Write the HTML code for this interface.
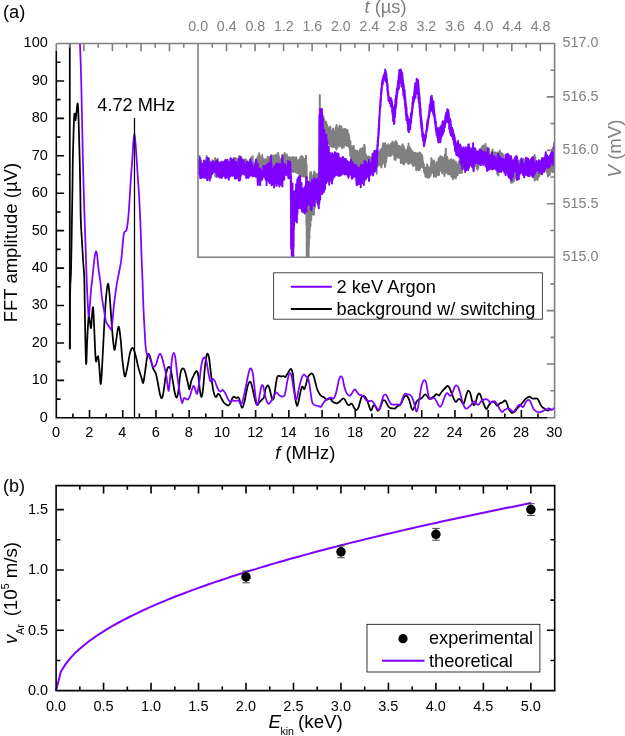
<!DOCTYPE html>
<html><head><meta charset="utf-8"><title>figure</title>
<style>
html,body{margin:0;padding:0;background:#fff;}
body{width:625px;height:736px;overflow:hidden;position:relative;}
svg text{font-family:"Liberation Sans",sans-serif;}
</style></head><body>
<svg width="625" height="736" viewBox="0 0 625 736" style="display:block;position:absolute;left:0;top:0;will-change:transform;opacity:0.999">
<rect width="625" height="736" fill="#fff"/>
<!--CURVES_A-->
<g clip-path="url(#clipA)" fill="none" stroke-linejoin="round" stroke-linecap="round" stroke-width="1.75">
<path d="M69.8,-50.0 L69.8,348.4" stroke="#000"/>
<path d="M69.8,348.4 C69.9,343.7 69.9,328.1 69.9,320.0 C69.9,311.9 69.9,305.8 70.0,300.0 C70.1,294.2 70.2,289.7 70.3,285.0 C70.5,280.3 70.8,278.3 71.0,272.0 C71.2,265.7 71.3,256.5 71.5,247.0 C71.7,237.5 71.8,225.3 72.0,215.0 C72.2,204.7 72.3,194.2 72.5,185.0 C72.6,175.8 72.7,168.3 72.8,160.0 C73.0,151.7 73.3,142.5 73.5,135.0 C73.7,127.5 74.0,118.2 74.3,115.0 C74.5,111.8 74.8,114.7 75.0,115.5 C75.2,116.3 75.3,120.6 75.6,120.0 C75.8,119.4 76.2,114.7 76.5,112.0 C76.8,109.3 77.4,102.3 77.7,103.6 C78.0,104.9 78.3,110.6 78.6,120.0 C78.9,129.4 79.4,148.3 79.7,160.0 C80.0,171.7 80.1,179.9 80.3,190.0 C80.5,200.1 80.5,211.7 80.8,220.4 C81.1,229.1 81.6,235.1 82.0,242.0 C82.4,248.9 82.8,256.0 83.2,262.0 C83.6,268.0 84.0,268.3 84.3,278.0 C84.6,287.7 84.7,305.7 85.0,320.0 C85.3,334.3 85.7,360.4 86.1,363.7 C86.5,367.0 86.8,347.8 87.2,340.0 C87.6,332.2 88.2,320.0 88.6,316.8 C89.0,313.6 89.4,319.1 89.8,321.0 C90.2,322.9 90.6,328.8 91.0,328.0 C91.4,327.2 91.7,319.4 92.0,316.0 C92.3,312.6 92.7,305.4 93.1,307.7 C93.5,310.0 93.9,321.4 94.3,330.0 C94.7,338.6 95.2,354.9 95.7,359.6 C96.2,364.4 96.6,359.0 97.0,358.5 C97.4,358.0 97.8,355.0 98.2,356.6 C98.6,358.2 99.0,363.4 99.4,368.0 C99.8,372.6 100.3,384.5 100.8,384.0 C101.3,383.5 101.7,374.0 102.2,365.0 C102.7,356.0 103.4,341.2 104.0,330.0 C104.6,318.8 105.3,305.7 106.0,298.0 C106.7,290.3 107.3,284.5 107.9,283.8 C108.5,283.1 108.9,288.0 109.5,294.0 C110.1,300.0 110.8,312.0 111.4,320.0 C112.0,328.0 112.7,337.0 113.2,342.0 C113.8,347.0 114.2,350.5 114.7,349.8 C115.2,349.1 115.9,341.9 116.5,338.0 C117.1,334.1 117.9,326.9 118.5,326.6 C119.1,326.3 119.6,330.4 120.3,336.0 C121.0,341.6 121.7,353.3 122.4,360.0 C123.2,366.7 124.0,375.0 124.8,376.3 C125.6,377.6 126.3,371.9 127.2,368.0 C128.1,364.1 129.1,356.4 130.0,353.0 C130.9,349.6 131.9,347.5 132.8,347.8 C133.7,348.1 134.6,351.6 135.5,355.0 C136.4,358.4 137.5,364.2 138.5,368.0 C139.5,371.8 140.8,375.5 141.6,378.0 C142.4,380.5 142.6,383.9 143.2,382.8 C143.8,381.7 144.4,376.0 145.1,371.6 C145.8,367.2 146.6,359.3 147.2,356.4 C147.8,353.5 148.3,353.7 148.8,354.0 C149.3,354.3 149.7,355.7 150.4,358.0 C151.1,360.3 151.9,364.9 152.8,367.6 C153.7,370.3 155.1,370.9 156.0,374.0 C156.9,377.1 157.7,382.4 158.4,386.0 C159.1,389.6 159.7,393.6 160.3,395.6 C160.9,397.6 161.3,398.8 161.9,398.0 C162.5,397.2 163.1,394.4 163.7,390.8 C164.3,387.2 165.0,380.1 165.6,376.4 C166.2,372.7 166.9,369.9 167.5,368.4 C168.1,366.8 168.7,366.8 169.3,367.1 C169.9,367.4 170.3,367.6 170.9,370.0 C171.5,372.4 172.1,377.3 172.8,381.2 C173.5,385.1 174.2,390.5 174.9,393.2 C175.6,395.9 176.2,397.9 176.8,397.5 C177.4,397.1 177.9,394.3 178.4,390.8 C178.9,387.3 179.5,379.9 180.0,376.4 C180.5,372.9 180.8,371.3 181.3,370.0 C181.8,368.7 182.3,368.3 182.9,368.4 C183.5,368.5 184.2,369.2 184.8,370.8 C185.4,372.4 186.1,375.5 186.7,378.0 C187.3,380.5 188.0,384.1 188.5,386.0 C189.0,387.9 189.2,390.0 189.6,389.2 C190.0,388.4 190.5,383.5 191.2,381.2 C191.9,378.9 192.8,377.2 193.6,375.6 C194.3,374.1 195.1,372.6 195.7,371.9 C196.3,371.2 196.6,370.6 197.1,371.3 C197.6,372.1 197.9,373.1 198.4,376.4 C198.9,379.6 199.5,387.4 200.0,390.8 C200.5,394.2 201.1,397.4 201.6,396.9 C202.1,396.4 202.7,392.4 203.2,387.6 C203.7,382.9 204.3,373.6 204.8,368.4 C205.3,363.2 205.9,358.8 206.4,356.4 C206.9,353.9 207.2,353.4 207.7,353.7 C208.1,354.0 208.6,355.0 209.1,358.0 C209.6,361.0 210.1,366.7 210.7,371.6 C211.3,376.5 212.2,383.7 212.8,387.6 C213.4,391.5 213.9,393.2 214.4,394.8 C214.9,396.4 215.4,397.3 216.0,397.2 C216.6,397.1 217.3,394.4 217.9,394.0 C218.5,393.6 218.9,394.0 219.5,394.8 C220.1,395.6 220.8,397.5 221.6,398.8 C222.3,400.1 223.2,401.8 224.0,402.8 C224.8,403.8 225.7,404.2 226.4,404.7 C227.2,405.1 227.8,405.8 228.5,405.5 C229.2,405.2 229.8,404.1 230.4,402.8 C231.1,401.6 231.8,399.0 232.4,398.0 C233.0,397.0 233.4,396.7 234.0,396.7 C234.6,396.7 235.4,397.9 236.1,398.0 C236.8,398.1 237.5,397.1 238.0,397.2 C238.5,397.3 238.8,397.5 239.3,398.8 C239.8,400.1 240.4,403.7 240.9,405.2 C241.4,406.7 241.9,408.1 242.5,407.6 C243.1,407.1 243.8,404.3 244.4,402.0 C245.0,399.7 245.4,396.8 246.0,394.0 C246.6,391.2 247.2,387.2 247.9,385.2 C248.6,383.1 249.4,381.8 250.0,381.7 C250.6,381.6 251.0,382.3 251.6,384.4 C252.2,386.4 253.0,391.1 253.7,394.0 C254.4,396.9 255.0,400.1 255.6,402.0 C256.2,403.9 256.5,405.2 257.2,405.2 C257.9,405.2 258.8,402.9 259.6,402.0 C260.4,401.1 261.3,400.4 262.0,399.6 C262.7,398.8 263.3,398.9 263.9,397.2 C264.5,395.5 264.9,391.1 265.5,389.2 C266.1,387.2 267.0,385.8 267.6,385.5 C268.2,385.2 268.7,386.2 269.2,387.6 C269.7,389.0 270.3,392.0 270.8,394.0 C271.3,396.0 271.9,399.1 272.4,399.6 C272.9,400.1 273.5,399.5 274.0,397.2 C274.5,394.9 275.1,389.3 275.6,386.0 C276.1,382.7 276.7,378.9 277.2,377.2 C277.7,375.5 278.1,376.0 278.8,375.9 C279.5,375.8 280.4,376.4 281.2,376.4 C282.0,376.4 282.9,376.0 283.6,376.1 C284.3,376.2 284.7,377.4 285.2,377.2 C285.7,377.0 286.1,375.9 286.8,374.8 C287.5,373.7 288.5,371.8 289.2,370.8 C289.9,369.8 290.5,368.5 291.1,368.9 C291.7,369.3 292.2,370.3 292.7,373.2 C293.2,376.1 293.5,381.5 294.0,386.0 C294.5,390.5 295.1,397.1 295.6,400.4 C296.1,403.7 296.7,406.0 297.2,406.0 C297.7,406.0 298.3,402.7 298.8,400.4 C299.3,398.1 299.9,394.7 300.4,392.4 C300.9,390.1 301.5,387.6 302.0,386.8 C302.5,386.0 302.9,387.2 303.3,387.6 C303.7,388.0 303.9,389.7 304.4,389.2 C304.8,388.7 305.4,386.4 306.0,384.4 C306.6,382.4 307.2,378.8 307.9,377.2 C308.6,375.6 309.3,375.1 310.0,374.5 C310.7,373.9 311.3,373.3 311.9,373.5 C312.5,373.7 313.0,374.3 313.5,375.6 C314.0,376.9 314.5,378.9 315.1,381.2 C315.7,383.5 316.4,387.1 317.2,389.2 C317.9,391.3 318.8,392.8 319.6,394.0 C320.4,395.2 321.2,395.9 321.9,396.4 C322.6,396.9 323.2,396.7 324.0,397.2 C324.8,397.7 325.6,399.3 326.4,399.6 C327.2,399.9 328.1,399.1 328.8,398.8 C329.5,398.5 329.9,397.6 330.4,398.0 C330.9,398.4 331.3,400.4 332.0,401.2 C332.7,402.0 333.6,402.4 334.4,402.8 C335.2,403.2 336.0,403.4 336.8,403.3 C337.6,403.2 338.4,402.6 339.2,402.0 C340.0,401.4 340.9,400.2 341.6,399.6 C342.4,399.0 343.1,398.4 343.7,398.5 C344.3,398.6 344.7,399.5 345.3,400.4 C345.9,401.3 346.6,403.1 347.2,403.9 C347.8,404.7 348.4,405.2 349.1,405.2 C349.8,405.1 350.6,403.7 351.2,403.6 C351.8,403.5 352.0,403.6 352.5,404.4 C353.0,405.2 353.7,407.5 354.4,408.4 C355.1,409.3 355.8,410.1 356.5,410.0 C357.2,409.9 357.8,408.9 358.4,407.6 C359.0,406.3 359.5,403.7 360.0,402.0 C360.5,400.3 361.1,398.3 361.6,397.2 C362.1,396.1 362.6,395.7 363.2,395.6 C363.8,395.6 364.4,396.1 365.1,396.9 C365.8,397.7 366.6,399.0 367.2,400.4 C367.8,401.8 368.3,403.6 368.8,405.2 C369.3,406.8 369.9,408.9 370.4,409.7 C370.8,410.5 371.1,410.6 371.5,410.0 C371.9,409.4 372.6,406.8 373.1,406.0 C373.6,405.2 373.9,404.9 374.4,405.2 C374.9,405.5 375.4,406.7 376.0,407.6 C376.6,408.5 377.2,410.7 377.9,410.8 C378.6,410.9 379.4,409.6 380.0,408.4 C380.6,407.2 381.1,404.9 381.6,403.6 C382.1,402.3 382.7,400.9 383.2,400.4 C383.7,399.9 384.3,400.0 384.8,400.4 C385.3,400.8 385.8,401.7 386.4,402.8 C387.0,403.9 387.8,405.9 388.5,406.8 C389.2,407.7 389.7,407.8 390.4,408.1 C391.1,408.4 392.0,408.3 392.8,408.4 C393.6,408.4 394.4,408.8 395.2,408.4 C396.0,408.0 396.8,406.5 397.6,406.0 C398.4,405.5 399.3,405.9 400.0,405.2 C400.7,404.5 401.2,403.3 401.9,402.0 C402.6,400.7 403.3,398.3 404.0,397.2 C404.7,396.1 405.4,395.6 406.1,395.6 C406.8,395.6 407.4,396.3 408.0,397.2 C408.6,398.1 409.1,399.5 409.6,401.2 C410.2,402.9 410.8,406.1 411.3,407.6 C411.9,409.1 412.4,410.1 412.9,410.0 C413.4,409.9 413.9,408.1 414.5,406.8 C415.1,405.5 415.8,403.2 416.4,402.0 C417.0,400.8 417.6,400.1 418.3,399.6 C419.0,399.1 419.7,399.5 420.4,399.1 C421.1,398.7 421.8,397.9 422.5,397.2 C423.2,396.5 423.9,395.2 424.4,394.8 C424.9,394.4 425.2,394.2 425.7,394.5 C426.2,394.8 426.7,395.7 427.3,396.4 C427.9,397.1 428.5,398.5 429.2,398.8 C429.9,399.1 430.8,398.4 431.6,398.0 C432.4,397.6 433.3,397.0 434.0,396.4 C434.7,395.8 435.3,394.6 435.9,394.3 C436.5,394.0 437.0,394.6 437.5,394.8 C438.0,395.0 438.6,395.9 439.1,395.6 C439.6,395.3 440.1,394.1 440.7,393.2 C441.3,392.3 442.1,391.3 442.8,390.5 C443.5,389.7 444.2,389.1 444.9,388.4 C445.6,387.7 446.3,386.7 446.8,386.3 C447.3,385.9 447.6,385.6 448.1,386.0 C448.6,386.4 449.2,387.3 449.7,388.4 C450.2,389.5 450.7,390.9 451.3,392.4 C451.9,393.9 452.6,395.7 453.2,397.2 C453.8,398.7 454.6,400.4 455.1,401.2 C455.6,401.9 455.9,402.0 456.4,401.7 C456.9,401.4 457.5,400.1 458.0,399.6 C458.5,399.1 458.8,398.7 459.3,398.8 C459.8,398.9 460.3,399.6 460.9,400.4 C461.5,401.2 462.3,403.2 462.8,403.6 C463.3,404.0 463.6,403.9 464.1,402.8 C464.6,401.7 465.2,399.0 465.7,397.2 C466.2,395.4 466.8,393.2 467.3,392.1 C467.8,391.0 468.2,390.6 468.7,390.8 C469.2,391.0 469.8,391.9 470.3,393.2 C470.8,394.5 471.2,397.1 471.6,398.8 C472.0,400.5 472.5,402.5 472.9,403.6 C473.3,404.7 473.6,405.3 474.0,405.2 C474.4,405.1 475.1,404.3 475.6,402.8 C476.1,401.3 476.7,397.9 477.2,396.4 C477.7,394.8 478.3,393.8 478.8,393.5 C479.3,393.2 479.9,393.8 480.4,394.8 C480.9,395.8 481.4,398.0 482.0,399.6 C482.6,401.2 483.3,403.0 483.9,404.4 C484.5,405.8 485.0,407.4 485.5,408.1 C486.0,408.9 486.3,409.2 486.8,408.9 C487.3,408.5 487.9,406.9 488.4,406.0 C488.9,405.1 489.4,404.3 490.0,403.6 C490.6,402.9 491.4,401.9 492.2,401.7 C492.9,401.5 493.8,401.8 494.5,402.3 C495.2,402.8 495.7,404.2 496.2,404.8 C496.7,405.4 497.1,406.0 497.6,405.9 C498.1,405.8 498.6,404.7 499.0,404.2 C499.4,403.7 499.8,403.4 500.3,403.1 C500.8,402.8 501.5,402.9 502.1,402.6 C502.7,402.3 503.2,401.6 503.7,401.2 C504.2,400.8 504.7,400.4 505.1,400.5 C505.5,400.6 505.8,401.0 506.2,401.7 C506.6,402.4 507.0,403.7 507.4,404.8 C507.8,405.9 508.1,407.2 508.5,408.2 C508.9,409.2 509.4,410.3 509.9,411.0 C510.4,411.7 510.9,412.1 511.3,412.4 C511.7,412.7 511.9,412.9 512.4,412.9 C512.9,412.8 513.5,412.6 514.1,412.1 C514.8,411.6 515.5,410.7 516.3,409.8 C517.0,408.9 517.9,407.8 518.6,407.0 C519.4,406.2 520.1,405.6 520.8,404.8 C521.5,404.0 522.2,402.9 523.0,402.0 C523.8,401.1 524.5,399.9 525.3,399.2 C526.0,398.4 526.8,397.9 527.5,397.5 C528.2,397.1 528.8,396.6 529.4,396.7 C530.0,396.8 530.6,397.5 531.2,397.8 C531.8,398.1 532.5,398.5 533.1,398.6 C533.7,398.7 534.2,398.7 534.8,398.6 C535.4,398.6 536.0,398.2 536.5,398.3 C537.0,398.4 537.4,398.6 537.9,399.2 C538.4,399.8 538.8,401.0 539.3,402.0 C539.8,403.0 540.5,404.5 541.0,405.4 C541.5,406.3 542.1,406.8 542.6,407.3 C543.1,407.8 543.7,408.0 544.3,408.4 C544.9,408.8 545.4,409.4 546.0,409.8 C546.6,410.2 547.1,410.6 547.7,410.6 C548.3,410.6 548.9,410.0 549.4,409.8 C549.9,409.6 550.7,409.4 551.0,409.3" stroke="#000"/>
<path d="M80.0,30.0 C80.0,32.2 79.8,35.2 80.0,43.5 C80.2,51.8 80.7,60.6 81.2,80.0 C81.7,99.4 82.4,140.0 82.9,160.0 C83.4,180.0 83.6,186.4 84.0,200.0 C84.4,213.6 85.0,230.3 85.4,241.6 C85.8,252.9 86.0,259.6 86.3,268.0 C86.6,276.4 86.8,284.0 87.2,292.0 C87.6,300.0 88.2,313.5 88.6,315.8 C89.0,318.1 89.4,310.3 89.8,306.0 C90.2,301.7 90.6,294.3 91.0,290.0 C91.4,285.7 91.8,283.7 92.2,280.0 C92.6,276.3 93.0,271.8 93.4,268.0 C93.8,264.2 94.3,259.8 94.7,257.0 C95.1,254.2 95.6,251.6 96.0,251.4 C96.4,251.2 96.8,253.2 97.2,256.0 C97.6,258.8 97.9,263.7 98.4,268.0 C98.9,272.3 99.8,277.2 100.4,282.0 C101.0,286.8 101.2,292.0 101.8,296.5 C102.4,301.0 103.1,304.9 103.8,309.0 C104.5,313.1 105.2,318.2 105.9,320.9 C106.6,323.6 107.2,323.9 107.9,325.0 C108.6,326.1 109.2,326.8 109.8,327.5 C110.4,328.2 110.9,330.8 111.4,329.5 C111.9,328.2 112.2,324.1 112.6,320.0 C113.0,315.9 113.5,309.1 114.0,304.6 C114.5,300.1 115.0,296.7 115.5,293.0 C116.0,289.3 116.4,286.0 117.1,282.2 C117.8,278.4 118.8,273.8 119.5,270.0 C120.2,266.2 120.6,265.3 121.3,259.5 C122.0,253.7 123.0,239.7 123.7,235.0 C124.4,230.3 124.7,232.3 125.2,231.5 C125.7,230.7 126.1,231.3 126.5,230.1 C126.9,228.8 127.2,226.7 127.6,224.0 C127.9,221.3 128.2,218.5 128.6,213.8 C129.0,209.1 129.4,202.2 129.8,196.0 C130.2,189.8 130.6,182.3 131.0,176.3 C131.4,170.3 131.9,165.6 132.3,160.0 C132.7,154.4 133.0,147.4 133.3,143.0 C133.7,138.6 134.0,133.8 134.4,133.8 C134.8,133.8 135.1,138.6 135.5,143.0 C135.9,147.4 136.3,153.8 136.7,160.0 C137.1,166.2 137.6,173.8 138.0,180.0 C138.4,186.2 138.7,188.6 139.2,197.5 C139.7,206.4 140.4,223.3 140.8,233.4 C141.2,243.5 141.3,250.2 141.6,258.0 C141.9,265.8 142.2,271.2 142.5,280.0 C142.8,288.8 143.2,302.4 143.6,310.7 C143.9,319.0 144.3,324.1 144.6,330.0 C144.9,335.9 145.2,342.1 145.6,346.0 C145.9,349.9 146.3,352.1 146.7,353.6 C147.1,355.1 147.7,354.7 148.0,355.0 C148.3,355.3 148.3,354.4 148.8,355.6 C149.3,356.8 150.4,360.1 151.2,362.0 C151.9,363.9 152.5,366.4 153.3,366.8 C154.1,367.2 155.2,366.1 156.0,364.4 C156.8,362.7 157.7,358.2 158.4,356.4 C159.1,354.6 159.5,353.5 160.0,353.5 C160.5,353.5 160.9,354.4 161.6,356.4 C162.3,358.3 163.2,361.9 164.0,365.2 C164.8,368.5 165.7,372.1 166.4,376.4 C167.2,380.7 167.9,390.5 168.5,390.8 C169.1,391.1 169.5,383.3 170.1,378.0 C170.7,372.7 171.4,363.0 172.0,358.8 C172.6,354.6 173.3,352.9 173.9,352.9 C174.5,352.9 174.9,354.6 175.5,358.8 C176.1,363.0 176.8,372.1 177.6,378.0 C178.3,383.9 179.2,389.9 180.0,394.0 C180.8,398.1 181.4,402.1 182.1,402.8 C182.8,403.5 183.2,398.5 184.0,398.0 C184.8,397.5 186.3,399.7 187.2,399.6 C188.1,399.5 188.8,398.9 189.6,397.2 C190.4,395.5 191.3,391.1 192.0,389.2 C192.7,387.3 193.1,385.7 193.6,385.7 C194.1,385.7 194.6,387.9 195.2,389.2 C195.8,390.5 196.4,394.8 197.1,393.7 C197.8,392.6 198.5,387.3 199.2,382.8 C199.9,378.3 200.5,370.7 201.1,366.8 C201.7,362.9 202.1,361.2 202.7,359.6 C203.3,358.1 203.9,357.2 204.5,357.5 C205.1,357.8 205.7,358.6 206.4,361.2 C207.1,363.8 207.8,369.9 208.5,373.2 C209.2,376.5 209.7,380.3 210.4,381.2 C211.1,382.1 212.1,378.8 212.8,378.8 C213.6,378.8 214.1,379.6 214.9,381.2 C215.7,382.8 216.8,386.7 217.6,388.4 C218.4,390.1 219.1,391.3 220.0,391.6 C220.9,391.9 222.0,389.6 222.9,390.0 C223.8,390.4 224.6,392.3 225.6,394.0 C226.6,395.7 227.9,399.1 228.8,400.4 C229.7,401.7 230.6,402.1 231.2,402.0 C231.8,401.9 231.8,400.2 232.4,400.1 C233.0,400.0 233.9,401.1 234.8,401.2 C235.7,401.2 237.1,400.0 238.0,400.4 C238.9,400.8 239.8,402.9 240.4,403.6 C241.0,404.3 241.0,405.5 241.5,404.4 C242.0,403.3 242.8,400.3 243.6,397.2 C244.3,394.1 245.3,389.5 246.0,386.0 C246.7,382.5 247.3,379.1 247.9,376.4 C248.5,373.7 249.0,371.3 249.5,370.0 C250.0,368.7 250.3,368.2 250.8,368.4 C251.3,368.6 251.9,368.9 252.4,371.3 C252.9,373.7 253.5,378.5 254.0,382.8 C254.5,387.1 255.1,393.5 255.6,397.2 C256.1,400.9 256.7,404.4 257.2,404.9 C257.7,405.4 258.3,402.8 258.8,400.4 C259.3,398.0 259.9,393.3 260.4,390.8 C260.9,388.3 261.5,385.7 262.0,385.2 C262.5,384.7 263.0,385.6 263.6,387.6 C264.2,389.6 264.8,394.7 265.5,397.2 C266.2,399.7 267.0,401.7 267.6,402.8 C268.2,403.9 268.5,404.0 269.2,403.6 C269.9,403.2 270.8,401.7 271.6,400.4 C272.4,399.1 273.2,396.9 274.0,395.6 C274.8,394.3 275.6,392.5 276.4,392.4 C277.2,392.3 278.0,394.1 278.8,394.8 C279.6,395.5 280.4,396.1 281.2,396.4 C282.0,396.7 282.9,396.9 283.6,396.4 C284.3,395.9 284.7,395.2 285.2,393.2 C285.7,391.2 286.3,387.2 286.8,384.4 C287.3,381.6 287.9,378.3 288.4,376.4 C288.9,374.5 289.5,373.2 290.0,373.2 C290.5,373.2 291.1,374.3 291.6,376.4 C292.1,378.5 292.7,382.8 293.2,386.0 C293.7,389.2 294.4,393.3 294.8,395.6 C295.2,397.9 295.5,399.3 295.9,399.6 C296.3,399.9 296.7,399.2 297.2,397.2 C297.7,395.2 298.4,390.5 299.1,387.6 C299.8,384.7 300.6,381.6 301.2,379.6 C301.8,377.6 302.3,376.5 302.8,375.6 C303.3,374.8 303.6,374.4 304.1,374.5 C304.6,374.6 305.4,375.8 306.0,376.4 C306.6,377.0 307.4,376.9 307.9,378.0 C308.4,379.1 308.7,380.1 309.2,382.8 C309.7,385.5 310.3,390.7 310.8,394.0 C311.3,397.3 311.7,400.9 312.4,402.8 C313.1,404.7 313.9,404.7 314.8,405.2 C315.7,405.7 316.9,405.7 318.0,406.0 C319.1,406.3 320.5,407.1 321.2,406.8 C321.9,406.5 321.8,405.3 322.4,404.4 C323.0,403.5 324.0,402.1 324.8,401.2 C325.6,400.3 326.4,399.6 327.2,399.1 C327.9,398.6 328.6,398.2 329.3,398.0 C330.0,397.8 330.6,397.6 331.2,397.7 C331.8,397.8 332.2,398.9 332.8,398.8 C333.4,398.7 334.0,398.4 334.7,396.9 C335.4,395.4 336.2,392.5 336.8,390.0 C337.4,387.5 337.9,384.1 338.4,382.0 C338.9,379.9 339.5,378.1 340.0,377.2 C340.5,376.3 340.9,376.1 341.3,376.4 C341.8,376.7 342.2,377.3 342.7,378.8 C343.1,380.3 343.5,383.1 344.0,385.2 C344.5,387.3 345.2,390.0 345.9,391.6 C346.6,393.2 347.3,394.1 348.0,394.8 C348.7,395.5 349.4,395.9 350.1,395.6 C350.8,395.3 351.4,394.1 352.0,393.2 C352.6,392.3 353.1,391.1 353.6,390.5 C354.1,389.9 354.7,389.3 355.2,389.5 C355.7,389.7 356.1,390.7 356.8,391.6 C357.5,392.5 358.4,394.2 359.2,394.8 C360.0,395.4 361.1,394.9 361.9,395.3 C362.7,395.7 363.2,396.4 364.0,397.2 C364.8,398.0 365.6,399.7 366.4,400.4 C367.2,401.1 367.9,401.1 368.8,401.2 C369.7,401.2 370.7,400.4 371.5,400.7 C372.3,401.0 372.9,401.8 373.6,402.8 C374.4,403.8 375.2,405.7 376.0,406.8 C376.8,407.9 377.7,409.6 378.4,409.7 C379.1,409.8 379.5,408.9 380.0,407.6 C380.5,406.3 381.1,403.9 381.6,402.0 C382.1,400.1 382.7,397.6 383.2,396.4 C383.7,395.1 384.2,394.6 384.8,394.5 C385.4,394.4 386.2,394.9 386.9,395.9 C387.6,396.9 388.1,399.0 388.8,400.4 C389.5,401.8 390.4,403.4 391.2,404.1 C392.0,404.8 392.7,404.6 393.6,404.7 C394.5,404.8 395.9,404.4 396.8,404.4 C397.7,404.4 398.5,404.8 399.2,404.7 C399.9,404.6 400.3,404.6 400.8,403.6 C401.3,402.6 401.9,400.3 402.4,398.8 C402.9,397.3 403.5,395.7 404.0,394.8 C404.5,393.9 405.0,393.8 405.6,393.7 C406.2,393.6 407.0,394.1 407.7,394.3 C408.4,394.5 408.9,394.3 409.6,394.8 C410.3,395.3 411.2,395.9 411.9,397.2 C412.6,398.5 413.4,400.8 414.0,402.8 C414.6,404.8 415.2,407.7 415.6,409.2 C416.1,410.7 416.3,411.9 416.7,411.6 C417.1,411.3 417.5,410.0 418.0,407.6 C418.5,405.2 419.1,400.5 419.6,397.2 C420.1,393.9 420.7,390.1 421.2,387.6 C421.7,385.1 422.3,383.2 422.8,382.0 C423.3,380.8 423.9,380.1 424.4,380.1 C424.9,380.1 425.5,380.5 426.0,382.0 C426.5,383.5 426.8,386.7 427.3,389.2 C427.8,391.7 428.3,395.5 428.9,397.2 C429.5,398.9 430.1,399.0 430.8,399.1 C431.5,399.2 432.5,398.1 433.2,398.0 C433.9,397.9 434.3,398.0 434.8,398.5 C435.3,399.0 435.8,400.1 436.4,401.2 C437.0,402.3 437.9,404.3 438.5,405.2 C439.1,406.1 439.5,406.9 440.1,406.8 C440.7,406.7 441.4,405.7 442.0,404.4 C442.6,403.1 443.2,400.5 443.9,398.8 C444.6,397.1 445.4,394.9 446.0,394.0 C446.6,393.1 447.0,392.9 447.6,393.2 C448.2,393.5 449.1,395.2 449.7,395.6 C450.3,396.0 450.8,396.0 451.3,395.3 C451.8,394.6 452.3,393.0 452.9,391.6 C453.5,390.2 454.2,387.8 454.8,386.8 C455.4,385.8 456.1,385.4 456.7,385.5 C457.3,385.6 457.9,386.2 458.5,387.6 C459.1,389.0 459.7,391.6 460.4,394.0 C461.1,396.4 461.8,399.9 462.5,402.0 C463.2,404.1 463.8,405.7 464.4,406.8 C465.0,407.9 465.3,408.6 466.0,408.7 C466.7,408.8 467.6,408.2 468.4,407.6 C469.2,407.0 470.0,406.1 470.8,405.2 C471.6,404.3 472.5,402.6 473.2,402.0 C473.9,401.4 474.2,401.1 474.8,401.5 C475.4,401.9 476.2,403.9 476.9,404.4 C477.6,404.9 478.1,404.9 478.8,404.4 C479.5,403.9 480.4,402.0 481.2,401.2 C482.0,400.4 482.8,400.0 483.6,399.6 C484.4,399.2 485.2,399.0 486.0,399.1 C486.8,399.2 487.7,399.8 488.4,400.4 C489.1,401.0 489.4,402.5 490.0,402.8 C490.6,403.1 491.5,402.3 492.2,402.0 C492.9,401.7 493.6,401.0 494.3,401.2 C495.0,401.4 495.6,402.3 496.2,403.1 C496.8,403.9 497.5,404.8 498.1,405.9 C498.8,407.0 499.4,408.8 500.1,409.8 C500.8,410.8 501.5,412.0 502.1,412.1 C502.8,412.2 503.3,410.9 504.0,410.4 C504.7,409.9 505.4,409.3 506.2,409.0 C506.9,408.7 507.8,408.6 508.5,408.7 C509.2,408.8 509.6,408.9 510.2,409.3 C510.8,409.7 511.3,410.6 511.8,411.0 C512.3,411.4 512.7,411.9 513.3,411.7 C513.9,411.5 514.5,410.7 515.2,409.8 C515.9,408.9 516.7,407.3 517.4,406.5 C518.1,405.7 518.7,405.0 519.3,404.8 C519.9,404.6 520.2,405.0 520.8,405.4 C521.4,405.8 522.1,407.0 522.7,407.0 C523.3,407.0 523.7,406.2 524.2,405.4 C524.7,404.6 525.2,402.9 525.8,402.0 C526.3,401.1 527.0,400.6 527.5,400.3 C528.0,400.0 528.5,399.9 529.0,400.1 C529.5,400.3 529.8,400.6 530.3,401.4 C530.8,402.2 531.2,403.7 531.7,404.8 C532.2,405.9 532.6,407.3 533.1,408.2 C533.6,409.1 534.1,409.8 534.8,410.4 C535.4,411.0 536.2,411.4 537.0,411.7 C537.8,412.0 538.9,412.4 539.8,412.4 C540.6,412.4 541.4,411.9 542.1,411.5 C542.9,411.1 543.5,410.6 544.3,410.2 C545.0,409.8 546.0,409.6 546.6,409.3 C547.2,409.0 547.7,408.5 548.2,408.4 C548.8,408.3 549.3,408.5 549.9,408.7 C550.5,408.9 551.0,409.8 551.6,409.8 C552.2,409.9 552.8,409.4 553.3,409.0 C553.8,408.6 554.2,407.8 554.4,407.6" stroke="#7f00ff"/>
</g>
<defs><clipPath id="clipA"><rect x="56.3" y="43.5" width="498.3" height="374.3"/></clipPath><clipPath id="clipI"><rect x="198.0" y="43.5" width="356.6" height="213.7"/></clipPath></defs>
<line x1="134.5" y1="118" x2="134.5" y2="417.8" stroke="#000" stroke-width="1.25"/>
<text x="136.2" y="111.3" font-size="18.2" text-anchor="middle" fill="#000" >4.72 MHz</text>
<rect x="198.0" y="43.5" width="356.6" height="213.7" fill="#fff"/>
<!--CURVES_I-->
<g clip-path="url(#clipI)" fill="none" stroke-linejoin="round" stroke-width="2.0">
<path d="M198.0,157.1 L198.2,169.9 L198.3,161.8 L198.4,173.3 L198.6,161.1 L198.8,170.5 L198.9,157.6 L199.1,170.6 L199.2,160.2 L199.3,172.1 L199.5,155.9 L199.7,173.7 L199.8,157.3 L199.9,170.7 L200.1,162.7 L200.2,168.4 L200.4,163.7 L200.6,171.2 L200.7,160.3 L200.8,169.7 L201.0,161.6 L201.2,170.1 L201.3,164.8 L201.4,168.1 L201.6,163.8 L201.8,167.1 L201.9,164.0 L202.1,172.0 L202.2,164.1 L202.3,169.2 L202.5,163.8 L202.7,168.7 L202.8,164.4 L202.9,170.2 L203.1,163.5 L203.2,171.8 L203.4,163.6 L203.6,169.5 L203.7,164.1 L203.8,171.2 L204.0,165.7 L204.2,171.8 L204.3,162.6 L204.4,171.2 L204.6,163.7 L204.8,172.1 L204.9,163.2 L205.1,171.5 L205.2,162.4 L205.3,173.9 L205.5,163.3 L205.7,174.5 L205.8,160.8 L205.9,174.6 L206.1,159.4 L206.2,172.4 L206.4,157.2 L206.6,170.9 L206.7,155.9 L206.8,175.0 L207.0,157.9 L207.2,171.8 L207.3,157.8 L207.4,170.1 L207.6,160.3 L207.8,170.9 L207.9,160.8 L208.1,170.7 L208.2,159.3 L208.3,171.7 L208.5,159.7 L208.7,173.1 L208.8,158.0 L208.9,172.9 L209.1,160.0 L209.2,172.8 L209.4,162.0 L209.6,175.8 L209.7,164.8 L209.8,174.9 L210.0,164.3 L210.2,173.0 L210.3,161.6 L210.4,177.9 L210.6,161.7 L210.8,174.5 L210.9,163.9 L211.1,173.1 L211.2,163.5 L211.3,171.5 L211.5,165.3 L211.7,170.2 L211.8,165.2 L211.9,169.8 L212.1,163.3 L212.2,169.5 L212.4,160.3 L212.6,171.9 L212.7,163.6 L212.8,166.9 L213.0,160.4 L213.2,167.0 L213.3,160.9 L213.4,168.7 L213.6,161.3 L213.8,169.1 L213.9,162.5 L214.1,168.6 L214.2,161.3 L214.3,167.2 L214.5,161.9 L214.7,169.3 L214.8,163.5 L214.9,168.7 L215.1,157.9 L215.2,175.9 L215.4,159.7 L215.6,172.3 L215.7,161.5 L215.8,174.2 L216.0,160.7 L216.2,173.2 L216.3,160.2 L216.4,177.0 L216.6,162.2 L216.8,174.3 L216.9,162.8 L217.1,170.7 L217.2,163.9 L217.3,172.2 L217.5,161.7 L217.7,173.1 L217.8,158.8 L217.9,175.0 L218.1,161.8 L218.2,173.0 L218.4,161.9 L218.6,175.6 L218.7,162.9 L218.8,175.1 L219.0,163.0 L219.2,174.2 L219.3,164.1 L219.4,177.5 L219.6,166.7 L219.8,176.7 L219.9,167.3 L220.1,176.6 L220.2,168.2 L220.3,177.1 L220.5,167.0 L220.7,176.4 L220.8,166.4 L220.9,176.2 L221.1,166.8 L221.2,176.9 L221.4,164.4 L221.6,174.3 L221.7,164.3 L221.8,176.0 L222.0,167.3 L222.2,172.5 L222.3,166.5 L222.4,174.3 L222.6,167.4 L222.8,175.4 L222.9,161.4 L223.1,174.1 L223.2,166.9 L223.3,172.3 L223.5,164.6 L223.7,171.9 L223.8,164.5 L223.9,170.0 L224.1,166.0 L224.2,174.6 L224.4,163.8 L224.6,171.0 L224.7,164.4 L224.8,173.7 L225.0,163.7 L225.2,171.8 L225.3,164.0 L225.4,170.9 L225.6,161.3 L225.8,169.2 L225.9,162.2 L226.1,171.8 L226.2,162.0 L226.3,172.5 L226.5,164.0 L226.7,173.4 L226.8,161.9 L226.9,174.8 L227.1,163.2 L227.2,171.2 L227.4,164.2 L227.6,174.7 L227.7,159.8 L227.8,174.9 L228.0,161.7 L228.2,172.0 L228.3,162.7 L228.4,172.1 L228.6,162.4 L228.8,173.0 L228.9,166.1 L229.1,170.5 L229.2,164.2 L229.3,171.9 L229.5,165.7 L229.7,170.4 L229.8,164.7 L229.9,171.6 L230.1,165.1 L230.2,169.6 L230.4,164.2 L230.6,171.6 L230.7,165.4 L230.8,171.5 L231.0,165.5 L231.2,170.6 L231.3,165.4 L231.4,171.2 L231.6,164.3 L231.8,171.4 L231.9,162.2 L232.1,173.1 L232.2,163.2 L232.3,170.6 L232.5,164.0 L232.7,167.7 L232.8,160.9 L232.9,167.4 L233.1,160.9 L233.2,169.3 L233.4,162.6 L233.6,168.6 L233.7,158.3 L233.8,169.0 L234.0,160.0 L234.2,168.8 L234.3,159.0 L234.4,169.4 L234.6,160.1 L234.8,167.6 L234.9,160.1 L235.1,168.0 L235.2,158.3 L235.3,170.2 L235.5,158.0 L235.7,168.3 L235.8,159.2 L235.9,169.2 L236.1,159.5 L236.2,174.9 L236.4,161.0 L236.6,173.6 L236.7,160.3 L236.8,173.7 L237.0,158.8 L237.2,175.0 L237.3,163.0 L237.4,174.0 L237.6,164.8 L237.8,172.0 L237.9,162.3 L238.1,172.9 L238.2,159.5 L238.3,172.1 L238.5,160.2 L238.7,174.6 L238.8,160.6 L238.9,171.2 L239.1,156.1 L239.2,174.9 L239.4,159.2 L239.6,169.6 L239.7,159.7 L239.8,173.3 L240.0,160.1 L240.2,173.5 L240.3,156.5 L240.4,171.4 L240.6,157.4 L240.8,174.3 L240.9,156.7 L241.1,172.1 L241.2,160.8 L241.3,173.9 L241.5,162.2 L241.7,172.8 L241.8,159.3 L241.9,174.1 L242.1,158.9 L242.2,173.1 L242.4,162.2 L242.6,172.3 L242.7,161.9 L242.8,172.7 L243.0,162.5 L243.2,173.1 L243.3,160.7 L243.4,171.1 L243.6,162.4 L243.8,171.5 L243.9,160.1 L244.1,171.2 L244.2,162.0 L244.3,171.4 L244.5,162.5 L244.7,174.0 L244.8,159.7 L244.9,170.8 L245.1,162.2 L245.2,171.2 L245.4,161.3 L245.6,169.7 L245.7,159.6 L245.8,171.3 L246.0,159.5 L246.2,168.2 L246.3,160.9 L246.4,169.7 L246.6,161.5 L246.8,169.0 L246.9,161.8 L247.1,171.3 L247.2,161.3 L247.3,170.7 L247.5,162.1 L247.7,168.3 L247.8,162.8 L247.9,168.3 L248.1,162.0 L248.2,167.1 L248.4,162.0 L248.6,168.0 L248.7,164.5 L248.8,169.0 L249.0,162.0 L249.2,169.1 L249.3,161.8 L249.4,166.6 L249.6,161.1 L249.8,166.9 L249.9,162.7 L250.1,169.9 L250.2,161.6 L250.3,168.4 L250.5,160.4 L250.7,166.9 L250.8,162.2 L250.9,167.9 L251.1,161.7 L251.2,170.8 L251.4,157.5 L251.6,170.3 L251.7,158.6 L251.8,167.4 L252.0,160.6 L252.2,168.1 L252.3,160.0 L252.4,172.3 L252.6,156.3 L252.8,169.4 L252.9,161.9 L253.1,171.1 L253.2,163.4 L253.3,169.0 L253.5,162.6 L253.7,171.4 L253.8,164.6 L253.9,173.5 L254.1,164.6 L254.2,173.1 L254.4,166.2 L254.6,173.4 L254.7,166.5 L254.8,173.7 L255.0,164.9 L255.2,173.6 L255.3,165.5 L255.4,175.6 L255.6,161.2 L255.8,177.0 L255.9,163.6 L256.1,171.5 L256.2,161.1 L256.4,167.1 L256.5,159.2 L256.6,167.7 L256.8,158.7 L256.9,166.7 L257.1,158.6 L257.2,164.1 L257.4,157.7 L257.6,163.3 L257.7,157.4 L257.9,165.4 L258.0,156.5 L258.1,166.0 L258.3,157.0 L258.4,168.1 L258.6,154.4 L258.8,165.7 L258.9,159.6 L259.1,168.3 L259.2,153.3 L259.4,174.6 L259.5,158.9 L259.6,175.4 L259.8,156.0 L259.9,174.8 L260.1,159.8 L260.2,171.0 L260.4,163.2 L260.6,168.8 L260.7,163.5 L260.9,170.0 L261.0,162.7 L261.1,169.3 L261.3,162.6 L261.4,167.7 L261.6,159.6 L261.8,167.1 L261.9,156.9 L262.1,169.1 L262.2,154.9 L262.4,170.9 L262.5,157.5 L262.6,168.4 L262.8,159.7 L262.9,166.4 L263.1,159.5 L263.2,167.6 L263.4,159.3 L263.6,165.9 L263.7,159.6 L263.9,166.2 L264.0,159.9 L264.1,169.6 L264.3,162.3 L264.4,167.7 L264.6,159.5 L264.8,171.5 L264.9,161.7 L265.1,170.9 L265.2,159.3 L265.4,172.8 L265.5,159.9 L265.6,170.9 L265.8,159.7 L265.9,169.1 L266.1,161.6 L266.2,170.4 L266.4,159.5 L266.6,167.8 L266.7,160.9 L266.9,168.5 L267.0,159.3 L267.1,167.9 L267.3,158.3 L267.4,167.6 L267.6,157.1 L267.8,167.6 L267.9,157.7 L268.1,166.7 L268.2,156.7 L268.4,171.1 L268.5,158.2 L268.6,170.5 L268.8,158.3 L268.9,168.6 L269.1,157.6 L269.2,169.3 L269.4,159.3 L269.6,166.8 L269.7,159.6 L269.9,169.6 L270.0,159.1 L270.1,169.0 L270.3,157.9 L270.4,171.1 L270.6,156.5 L270.8,172.8 L270.9,158.0 L271.1,170.6 L271.2,154.9 L271.4,169.8 L271.5,158.1 L271.6,166.7 L271.8,159.1 L271.9,168.6 L272.1,157.2 L272.2,172.3 L272.4,157.3 L272.6,169.7 L272.7,158.5 L272.9,171.2 L273.0,156.8 L273.1,169.3 L273.3,155.5 L273.4,169.3 L273.6,157.3 L273.8,171.0 L273.9,159.1 L274.1,168.6 L274.2,155.9 L274.4,171.3 L274.5,156.8 L274.6,168.9 L274.8,159.1 L274.9,168.6 L275.1,157.7 L275.2,168.3 L275.4,155.5 L275.6,167.9 L275.7,157.4 L275.9,165.9 L276.0,154.7 L276.1,166.5 L276.3,155.8 L276.4,168.8 L276.6,159.2 L276.8,167.3 L276.9,158.6 L277.1,167.5 L277.2,155.6 L277.4,166.1 L277.5,158.4 L277.6,166.6 L277.8,157.3 L277.9,171.9 L278.1,152.7 L278.2,167.1 L278.4,154.4 L278.6,168.4 L278.7,158.2 L278.9,164.5 L279.0,156.8 L279.1,168.0 L279.3,158.4 L279.4,169.1 L279.6,158.8 L279.8,166.6 L279.9,160.6 L280.1,167.5 L280.2,159.9 L280.4,168.6 L280.5,160.8 L280.6,172.1 L280.8,160.1 L280.9,170.8 L281.1,161.3 L281.2,169.3 L281.4,159.0 L281.6,172.7 L281.7,158.8 L281.9,171.3 L282.0,160.2 L282.1,169.1 L282.3,154.7 L282.4,168.6 L282.6,159.7 L282.8,166.1 L282.9,155.0 L283.1,166.8 L283.2,156.3 L283.4,169.9 L283.5,155.4 L283.6,166.4 L283.8,155.8 L283.9,167.6 L284.1,156.8 L284.2,166.8 L284.4,155.0 L284.6,166.8 L284.7,153.1 L284.9,165.7 L285.0,155.3 L285.1,164.5 L285.3,154.9 L285.4,165.4 L285.6,155.6 L285.8,165.5 L285.9,158.1 L286.1,163.1 L286.2,157.9 L286.4,164.8 L286.5,155.1 L286.6,166.3 L286.8,154.6 L286.9,164.6 L287.1,160.1 L287.2,163.3 L287.4,159.2 L287.6,164.7 L287.7,157.3 L287.9,166.8 L288.0,157.3 L288.1,169.9 L288.3,157.2 L288.4,168.4 L288.6,158.3 L288.8,167.9 L288.9,158.4 L289.1,169.6 L289.2,158.4 L289.4,170.9 L289.5,157.6 L289.6,167.3 L289.8,157.6 L289.9,168.7 L290.1,159.8 L290.2,170.1 L290.4,158.2 L290.6,168.9 L290.7,157.6 L290.9,167.7 L291.0,160.5 L291.1,168.3 L291.3,158.0 L291.4,169.7 L291.6,160.6 L291.8,168.7 L291.9,159.8 L292.1,168.7 L292.2,159.1 L292.4,171.6 L292.5,160.0 L292.6,171.2 L292.8,159.5 L292.9,172.0 L293.1,156.9 L293.2,170.6 L293.4,157.9 L293.6,171.3 L293.7,158.3 L293.9,171.7 L294.0,158.3 L294.1,171.4 L294.3,157.8 L294.4,169.6 L294.6,160.6 L294.8,169.4 L294.9,158.6 L295.1,168.9 L295.2,160.2 L295.4,170.1 L295.5,158.6 L295.6,171.9 L295.8,158.8 L295.9,168.6 L296.1,157.2 L296.2,172.4 L296.4,157.4 L296.6,171.2 L296.7,160.6 L296.9,170.7 L297.0,160.2 L297.1,171.9 L297.3,160.2 L297.4,171.7 L297.6,162.7 L297.8,173.5 L297.9,161.7 L298.1,171.8 L298.2,160.3 L298.4,173.3 L298.5,162.0 L298.6,172.3 L298.8,160.1 L298.9,173.0 L299.1,161.6 L299.2,172.2 L299.4,161.0 L299.6,172.2 L299.7,161.4 L299.9,176.5 L300.0,158.2 L300.1,174.1 L300.3,160.3 L300.4,173.9 L300.6,156.7 L300.8,171.9 L300.9,159.4 L301.1,172.4 L301.2,157.5 L301.4,174.9 L301.5,156.0 L301.6,175.7 L301.8,157.4 L301.9,176.4 L302.1,158.0 L302.2,172.3 L302.4,158.9 L302.6,172.6 L302.7,157.0 L302.9,175.4 L303.0,159.9 L303.1,175.5 L303.3,158.5 L303.4,176.5 L303.6,160.0 L303.8,176.6 L303.9,159.7 L304.1,173.5 L304.2,159.3 L304.4,174.8 L304.5,159.1 L304.6,174.8 L304.8,159.4 L304.9,176.7 L305.1,160.3 L305.2,176.0 L305.4,160.6 L305.6,175.9 L305.7,161.5 L305.9,178.3 L306.0,155.8 L306.1,178.6 L306.3,163.2 L306.4,224.8 L306.6,164.4 L306.8,264.1 L306.9,176.8 L307.1,271.0 L307.2,188.7 L307.4,271.0 L307.5,189.0 L307.6,260.7 L307.8,184.3 L307.9,266.4 L308.1,192.7 L308.2,275.8 L308.4,193.1 L308.6,260.8 L308.7,188.7 L308.9,246.8 L309.0,181.4 L309.1,228.5 L309.3,182.6 L309.4,238.2 L309.6,183.4 L309.8,229.9 L309.9,176.9 L310.1,224.5 L310.2,172.6 L310.4,226.5 L310.5,172.2 L310.6,220.1 L310.8,175.9 L310.9,217.7 L311.1,172.2 L311.2,219.9 L311.4,177.8 L311.6,215.1 L311.7,178.5 L311.9,213.9 L312.0,180.6 L312.1,206.2 L312.3,179.0 L312.4,214.3 L312.6,175.8 L312.8,213.6 L312.9,177.4 L313.1,207.1 L313.2,179.2 L313.4,211.4 L313.5,177.6 L313.6,206.9 L313.8,174.1 L313.9,214.8 L314.1,171.6 L314.2,208.7 L314.4,176.3 L314.6,207.7 L314.7,177.6 L314.9,207.1 L315.0,176.6 L315.1,205.5 L315.3,173.3 L315.4,201.6 L315.6,178.6 L315.8,202.7 L315.9,176.0 L316.1,202.8 L316.2,174.0 L316.4,200.1 L316.5,176.5 L316.6,200.4 L316.8,174.7 L316.9,196.7 L317.1,175.6 L317.2,197.1 L317.4,175.7 L317.6,199.0 L317.7,175.3 L317.9,193.1 L318.0,175.4 L318.1,192.8 L318.3,173.6 L318.4,196.5 L318.6,175.1 L318.8,199.7 L318.9,173.8 L319.1,192.8 L319.2,146.3 L319.4,184.5 L319.5,122.0 L319.6,193.5 L319.8,95.0 L319.9,178.4 L320.1,108.1 L320.2,165.6 L320.4,115.1 L320.6,154.3 L320.7,110.1 L320.9,148.3 L321.0,110.7 L321.1,137.4 L321.3,113.8 L321.4,134.6 L321.6,111.0 L321.8,133.7 L321.9,112.9 L322.1,135.9 L322.2,114.3 L322.4,133.0 L322.5,115.2 L322.6,134.2 L322.8,118.2 L322.9,134.3 L323.1,118.6 L323.2,134.4 L323.4,116.2 L323.6,136.1 L323.7,118.2 L323.9,136.0 L324.0,119.8 L324.1,136.7 L324.3,120.0 L324.4,137.1 L324.6,123.3 L324.8,136.8 L324.9,122.2 L325.1,136.8 L325.2,125.2 L325.4,140.5 L325.5,125.5 L325.6,139.3 L325.8,124.4 L325.9,139.0 L326.1,121.8 L326.2,140.6 L326.4,126.2 L326.5,137.8 L326.7,126.2 L326.9,138.2 L327.0,124.5 L327.1,140.3 L327.3,127.0 L327.4,139.3 L327.6,126.2 L327.8,141.1 L327.9,128.9 L328.0,143.3 L328.2,127.8 L328.4,142.5 L328.5,127.7 L328.6,143.6 L328.8,130.1 L328.9,141.0 L329.1,128.4 L329.2,142.1 L329.4,129.0 L329.5,141.5 L329.7,129.4 L329.9,142.0 L330.0,127.7 L330.1,145.5 L330.3,126.6 L330.4,142.4 L330.6,130.3 L330.8,142.0 L330.9,130.4 L331.0,145.9 L331.2,130.7 L331.4,142.8 L331.5,130.7 L331.6,144.7 L331.8,132.3 L331.9,144.9 L332.1,133.3 L332.2,147.0 L332.4,130.8 L332.5,146.3 L332.7,130.6 L332.9,145.1 L333.0,128.6 L333.1,146.3 L333.3,131.6 L333.4,146.7 L333.6,131.7 L333.8,145.9 L333.9,133.5 L334.0,144.4 L334.2,132.9 L334.4,144.6 L334.5,132.7 L334.6,147.2 L334.8,132.2 L334.9,144.2 L335.1,131.2 L335.2,144.0 L335.4,129.4 L335.5,144.6 L335.7,128.1 L335.9,145.2 L336.0,127.1 L336.1,147.0 L336.3,128.0 L336.4,149.5 L336.6,125.0 L336.8,144.5 L336.9,127.9 L337.0,146.9 L337.2,130.3 L337.4,147.7 L337.5,130.7 L337.6,144.4 L337.8,130.8 L337.9,145.5 L338.1,128.5 L338.2,142.9 L338.4,131.5 L338.5,143.7 L338.7,130.5 L338.9,142.4 L339.0,128.7 L339.1,144.6 L339.3,126.9 L339.4,146.1 L339.6,125.5 L339.8,146.3 L339.9,129.4 L340.0,145.2 L340.2,129.3 L340.4,141.2 L340.5,128.7 L340.6,143.3 L340.8,128.9 L340.9,144.3 L341.1,129.3 L341.2,145.7 L341.4,126.5 L341.5,145.5 L341.7,129.2 L341.9,147.5 L342.0,131.1 L342.1,148.2 L342.3,131.1 L342.4,145.4 L342.6,131.8 L342.8,145.3 L342.9,130.8 L343.0,145.0 L343.2,132.3 L343.4,144.6 L343.5,129.3 L343.6,144.7 L343.8,129.2 L343.9,147.2 L344.1,132.4 L344.2,145.5 L344.4,129.3 L344.5,144.7 L344.7,131.8 L344.9,142.9 L345.0,129.0 L345.1,142.3 L345.3,130.6 L345.4,145.1 L345.6,128.9 L345.8,142.1 L345.9,133.2 L346.0,142.3 L346.2,133.1 L346.4,139.7 L346.5,134.3 L346.6,141.1 L346.8,133.8 L346.9,142.8 L347.1,133.0 L347.2,145.9 L347.4,129.9 L347.5,145.7 L347.7,132.7 L347.9,145.0 L348.0,133.4 L348.1,144.8 L348.3,133.6 L348.4,145.0 L348.6,136.1 L348.8,145.9 L348.9,134.7 L349.0,146.9 L349.2,137.0 L349.4,148.2 L349.5,140.7 L349.6,147.9 L349.8,140.8 L349.9,150.8 L350.1,140.8 L350.2,155.0 L350.4,141.4 L350.5,156.8 L350.7,145.2 L350.9,154.0 L351.0,146.8 L351.1,154.8 L351.3,148.5 L351.4,156.5 L351.6,149.2 L351.8,160.3 L351.9,150.2 L352.0,159.7 L352.2,148.8 L352.4,158.9 L352.5,146.4 L352.6,162.9 L352.8,149.0 L352.9,160.9 L353.1,148.7 L353.2,164.5 L353.4,149.3 L353.5,161.2 L353.7,146.1 L353.9,163.9 L354.0,152.5 L354.1,164.3 L354.3,150.2 L354.4,167.0 L354.6,150.6 L354.8,164.6 L354.9,150.1 L355.0,166.8 L355.2,153.2 L355.4,164.2 L355.5,151.1 L355.6,164.8 L355.8,152.0 L355.9,166.2 L356.1,153.6 L356.2,164.0 L356.4,154.2 L356.5,166.1 L356.7,153.2 L356.9,167.2 L357.0,151.9 L357.1,167.2 L357.3,150.7 L357.4,166.0 L357.6,155.3 L357.8,169.3 L357.9,151.9 L358.0,162.4 L358.2,156.0 L358.4,164.7 L358.5,152.4 L358.6,164.5 L358.8,152.6 L358.9,165.2 L359.1,155.0 L359.2,163.0 L359.4,155.3 L359.5,164.9 L359.7,150.4 L359.9,166.8 L360.0,150.0 L360.1,164.6 L360.3,148.9 L360.4,161.5 L360.6,151.5 L360.8,162.2 L360.9,150.9 L361.0,163.3 L361.2,152.7 L361.4,168.3 L361.5,150.6 L361.6,163.6 L361.8,149.0 L361.9,163.7 L362.1,152.2 L362.2,161.7 L362.4,150.1 L362.5,158.8 L362.7,148.1 L362.9,160.4 L363.0,148.6 L363.1,159.9 L363.3,149.6 L363.4,158.9 L363.6,148.7 L363.8,162.3 L363.9,148.5 L364.0,158.9 L364.2,144.9 L364.4,161.9 L364.5,145.1 L364.6,161.8 L364.8,147.8 L364.9,162.3 L365.1,153.2 L365.2,160.2 L365.4,153.8 L365.5,161.4 L365.7,154.6 L365.9,164.4 L366.0,155.9 L366.1,165.3 L366.3,157.2 L366.4,166.0 L366.6,157.2 L366.8,165.5 L366.9,156.6 L367.0,165.9 L367.2,156.8 L367.4,167.2 L367.5,159.0 L367.6,166.7 L367.8,156.9 L367.9,167.9 L368.1,156.4 L368.2,166.0 L368.4,156.7 L368.5,167.1 L368.7,158.7 L368.9,166.5 L369.0,156.5 L369.1,165.1 L369.3,157.5 L369.4,167.0 L369.6,156.8 L369.8,167.6 L369.9,158.0 L370.0,165.0 L370.2,159.1 L370.4,165.8 L370.5,159.5 L370.6,167.2 L370.8,160.1 L370.9,167.3 L371.1,158.6 L371.2,162.0 L371.4,158.8 L371.5,162.1 L371.7,157.6 L371.9,162.7 L372.0,159.4 L372.1,163.8 L372.3,158.0 L372.4,167.2 L372.6,155.5 L372.8,165.6 L372.9,155.7 L373.0,165.8 L373.2,155.9 L373.4,163.4 L373.5,157.3 L373.6,165.8 L373.8,152.8 L373.9,167.5 L374.1,154.5 L374.2,167.3 L374.4,154.0 L374.5,167.0 L374.7,156.3 L374.9,166.5 L375.0,157.2 L375.1,166.0 L375.3,155.5 L375.4,165.8 L375.6,155.0 L375.8,167.3 L375.9,154.6 L376.0,166.9 L376.2,155.0 L376.4,166.8 L376.5,149.6 L376.6,173.8 L376.8,150.1 L376.9,168.3 L377.1,152.6 L377.2,167.4 L377.4,153.5 L377.5,166.3 L377.7,153.6 L377.9,164.0 L378.0,156.4 L378.1,163.2 L378.3,155.8 L378.4,161.6 L378.6,151.9 L378.8,165.2 L378.9,153.1 L379.0,164.7 L379.2,154.0 L379.4,163.5 L379.5,154.2 L379.6,164.0 L379.8,155.8 L379.9,163.5 L380.1,152.2 L380.2,164.8 L380.4,149.8 L380.5,165.2 L380.7,150.4 L380.9,163.1 L381.0,149.9 L381.1,164.4 L381.3,151.4 L381.4,167.5 L381.6,151.2 L381.8,165.5 L381.9,148.7 L382.0,164.6 L382.2,151.5 L382.4,163.1 L382.5,146.5 L382.6,161.8 L382.8,147.2 L382.9,163.5 L383.1,143.6 L383.2,158.7 L383.4,147.4 L383.5,160.5 L383.7,146.7 L383.9,158.9 L384.0,143.4 L384.1,159.6 L384.3,147.9 L384.4,160.8 L384.6,144.7 L384.8,160.7 L384.9,146.1 L385.0,166.9 L385.2,143.3 L385.4,164.7 L385.5,144.4 L385.6,162.7 L385.8,146.4 L385.9,161.6 L386.1,145.6 L386.2,161.9 L386.4,148.3 L386.5,158.8 L386.7,148.2 L386.9,156.4 L387.0,146.9 L387.1,155.8 L387.3,147.6 L387.4,154.6 L387.6,146.2 L387.8,152.6 L387.9,145.9 L388.0,152.8 L388.2,144.3 L388.4,152.1 L388.5,147.1 L388.6,152.4 L388.8,148.4 L388.9,155.8 L389.1,148.2 L389.2,154.1 L389.4,145.6 L389.5,154.7 L389.7,147.4 L389.9,156.0 L390.0,146.3 L390.1,156.3 L390.3,145.4 L390.4,155.9 L390.6,145.7 L390.8,155.4 L390.9,143.7 L391.0,154.3 L391.2,145.7 L391.4,152.9 L391.5,145.5 L391.6,154.7 L391.8,143.5 L391.9,150.7 L392.1,145.1 L392.2,153.2 L392.4,142.0 L392.5,153.3 L392.7,141.8 L392.9,153.8 L393.0,145.1 L393.1,153.8 L393.3,142.9 L393.4,151.9 L393.6,143.5 L393.8,154.8 L393.9,144.1 L394.0,155.4 L394.2,145.6 L394.4,157.3 L394.5,143.0 L394.6,159.2 L394.8,143.0 L394.9,154.8 L395.1,146.9 L395.2,156.1 L395.4,145.2 L395.5,160.0 L395.7,141.1 L395.9,156.5 L396.0,144.2 L396.1,157.0 L396.3,143.2 L396.4,156.3 L396.6,145.4 L396.8,157.5 L396.9,142.8 L397.0,157.0 L397.2,144.4 L397.4,156.0 L397.5,147.8 L397.6,156.3 L397.8,145.8 L397.9,157.3 L398.1,146.5 L398.2,154.5 L398.4,147.6 L398.5,157.1 L398.7,146.2 L398.9,155.6 L399.0,148.0 L399.1,157.9 L399.3,146.0 L399.4,156.6 L399.6,147.4 L399.8,156.1 L399.9,146.4 L400.0,156.7 L400.2,147.4 L400.4,157.2 L400.5,147.5 L400.6,158.9 L400.8,148.0 L400.9,162.9 L401.1,149.1 L401.2,160.8 L401.4,146.9 L401.5,159.8 L401.7,148.1 L401.9,159.5 L402.0,145.9 L402.1,162.8 L402.3,147.3 L402.4,162.0 L402.6,144.3 L402.8,163.0 L402.9,150.0 L403.0,161.8 L403.2,147.5 L403.4,160.2 L403.5,148.8 L403.6,164.4 L403.8,146.6 L403.9,164.4 L404.1,148.8 L404.2,159.6 L404.4,148.7 L404.5,160.1 L404.7,150.6 L404.9,160.5 L405.0,150.5 L405.1,161.4 L405.3,151.4 L405.4,161.9 L405.6,150.8 L405.8,162.4 L405.9,152.4 L406.0,161.7 L406.2,150.6 L406.4,160.8 L406.5,151.0 L406.6,159.9 L406.8,150.8 L406.9,160.0 L407.1,150.9 L407.2,156.4 L407.4,148.6 L407.5,158.2 L407.7,148.7 L407.9,159.8 L408.0,146.5 L408.1,163.4 L408.3,147.2 L408.4,164.0 L408.6,143.4 L408.8,161.7 L408.9,148.0 L409.0,160.0 L409.2,148.9 L409.4,161.2 L409.5,151.0 L409.6,163.2 L409.8,147.5 L409.9,162.9 L410.1,148.6 L410.2,159.3 L410.4,149.2 L410.5,160.4 L410.7,148.7 L410.9,162.5 L411.0,151.1 L411.1,162.6 L411.3,151.7 L411.4,160.8 L411.6,151.5 L411.8,162.4 L411.9,151.9 L412.0,163.8 L412.2,152.5 L412.4,164.2 L412.5,151.2 L412.6,163.2 L412.8,152.3 L412.9,164.3 L413.1,152.7 L413.2,166.1 L413.4,152.9 L413.5,163.8 L413.7,154.2 L413.9,165.7 L414.0,152.8 L414.1,165.4 L414.3,157.8 L414.4,162.8 L414.6,155.7 L414.8,163.5 L414.9,154.5 L415.0,164.5 L415.2,155.6 L415.4,164.2 L415.5,154.1 L415.6,164.8 L415.8,152.8 L415.9,163.9 L416.1,153.4 L416.2,170.3 L416.4,155.2 L416.5,168.2 L416.7,154.5 L416.9,168.2 L417.0,157.9 L417.1,168.3 L417.3,154.4 L417.4,168.5 L417.6,155.3 L417.8,168.0 L417.9,153.6 L418.0,168.0 L418.2,153.4 L418.4,170.0 L418.5,158.1 L418.6,168.0 L418.8,158.7 L418.9,170.1 L419.1,155.2 L419.2,169.2 L419.4,152.4 L419.5,170.1 L419.7,155.2 L419.9,168.3 L420.0,156.1 L420.1,168.4 L420.3,152.9 L420.4,165.9 L420.6,157.3 L420.8,167.2 L420.9,156.7 L421.0,163.1 L421.2,154.5 L421.4,162.8 L421.5,154.6 L421.6,165.0 L421.8,155.9 L421.9,164.1 L422.1,155.6 L422.2,164.5 L422.4,156.9 L422.5,167.1 L422.7,160.8 L422.9,167.7 L423.0,161.5 L423.1,168.0 L423.3,163.7 L423.4,167.4 L423.6,164.1 L423.8,168.2 L423.9,164.4 L424.0,171.1 L424.2,168.0 L424.4,172.5 L424.5,168.5 L424.6,173.2 L424.8,169.6 L424.9,174.2 L425.1,169.9 L425.2,174.1 L425.4,168.5 L425.5,176.7 L425.7,168.8 L425.9,177.1 L426.0,167.7 L426.1,175.7 L426.3,167.0 L426.4,173.9 L426.6,167.1 L426.8,174.2 L426.9,166.0 L427.0,175.3 L427.2,164.6 L427.4,175.3 L427.5,166.3 L427.6,173.8 L427.8,166.3 L427.9,177.8 L428.1,167.9 L428.2,177.3 L428.4,168.5 L428.5,176.0 L428.7,170.1 L428.9,175.5 L429.0,169.2 L429.1,177.4 L429.3,168.5 L429.4,174.3 L429.6,168.7 L429.8,174.1 L429.9,169.8 L430.0,174.4 L430.2,168.1 L430.4,175.2 L430.5,166.3 L430.6,175.8 L430.8,167.8 L430.9,171.2 L431.1,163.2 L431.2,170.7 L431.4,158.2 L431.5,171.6 L431.7,159.3 L431.9,173.0 L432.0,162.6 L432.1,171.7 L432.3,164.3 L432.4,171.2 L432.6,165.2 L432.8,171.8 L432.9,163.7 L433.0,171.9 L433.2,164.3 L433.4,172.2 L433.5,162.3 L433.6,172.2 L433.8,160.4 L433.9,176.8 L434.1,161.2 L434.2,173.3 L434.4,162.8 L434.5,174.6 L434.7,166.9 L434.9,173.5 L435.0,166.6 L435.1,173.5 L435.3,165.6 L435.4,171.7 L435.6,166.0 L435.8,173.6 L435.9,165.6 L436.0,177.1 L436.2,166.0 L436.4,175.7 L436.5,162.4 L436.6,174.5 L436.8,165.0 L436.9,174.5 L437.1,164.0 L437.2,174.4 L437.4,162.0 L437.5,173.1 L437.7,162.0 L437.9,171.6 L438.0,163.9 L438.1,172.4 L438.3,163.6 L438.4,175.2 L438.6,160.0 L438.8,174.8 L438.9,157.9 L439.0,174.9 L439.2,158.3 L439.4,169.3 L439.5,158.6 L439.6,169.2 L439.8,159.7 L439.9,167.2 L440.1,160.0 L440.2,170.2 L440.4,156.3 L440.5,170.8 L440.7,161.8 L440.9,166.8 L441.0,161.5 L441.1,167.2 L441.3,157.5 L441.4,168.3 L441.6,157.3 L441.8,170.3 L441.9,156.7 L442.0,173.2 L442.2,158.4 L442.4,167.9 L442.5,160.0 L442.6,169.5 L442.8,162.0 L442.9,169.1 L443.1,160.9 L443.2,170.2 L443.4,158.5 L443.5,170.6 L443.7,161.5 L443.9,171.6 L444.0,157.5 L444.1,174.4 L444.3,158.7 L444.4,176.0 L444.6,158.2 L444.8,173.9 L444.9,154.7 L445.0,172.5 L445.2,154.6 L445.4,170.5 L445.5,156.6 L445.6,171.3 L445.8,148.7 L445.9,170.5 L446.1,155.9 L446.2,166.9 L446.4,158.8 L446.5,168.6 L446.7,158.2 L446.9,171.0 L447.0,156.8 L447.1,172.9 L447.3,162.1 L447.4,172.1 L447.6,158.2 L447.8,170.2 L447.9,160.7 L448.0,174.1 L448.2,164.2 L448.4,174.1 L448.5,160.4 L448.6,171.6 L448.8,162.7 L448.9,173.9 L449.1,163.7 L449.2,174.6 L449.4,161.4 L449.5,172.6 L449.7,161.2 L449.9,173.4 L450.0,161.4 L450.1,174.3 L450.3,160.0 L450.4,171.6 L450.6,162.8 L450.8,174.6 L450.9,162.7 L451.0,174.6 L451.2,158.9 L451.4,176.7 L451.5,162.4 L451.6,172.1 L451.8,161.2 L451.9,173.5 L452.1,160.6 L452.2,176.2 L452.4,166.1 L452.5,174.0 L452.7,163.7 L452.9,179.3 L453.0,163.8 L453.1,174.2 L453.3,161.5 L453.4,177.4 L453.6,160.0 L453.8,176.8 L453.9,160.4 L454.1,174.3 L454.2,161.6 L454.3,176.6 L454.5,162.7 L454.6,174.5 L454.8,164.6 L454.9,177.4 L455.1,161.5 L455.2,176.7 L455.4,162.0 L455.6,176.1 L455.7,164.4 L455.8,178.5 L456.0,162.1 L456.1,176.8 L456.3,165.5 L456.4,174.2 L456.6,165.8 L456.8,174.4 L456.9,165.3 L457.1,175.3 L457.2,167.5 L457.3,174.2 L457.5,169.1 L457.6,175.2 L457.8,166.2 L457.9,174.1 L458.1,164.1 L458.2,172.2 L458.4,164.6 L458.6,173.0 L458.7,162.6 L458.8,171.7 L459.0,161.6 L459.1,171.5 L459.3,163.7 L459.4,169.6 L459.6,165.5 L459.8,171.3 L459.9,164.4 L460.1,172.9 L460.2,164.2 L460.3,171.3 L460.5,160.3 L460.6,170.8 L460.8,162.6 L460.9,168.3 L461.1,159.0 L461.2,171.5 L461.4,159.8 L461.6,169.8 L461.7,160.2 L461.8,173.1 L462.0,161.4 L462.1,170.9 L462.3,161.4 L462.4,169.5 L462.6,158.8 L462.8,167.6 L462.9,159.3 L463.1,166.1 L463.2,155.5 L463.3,167.0 L463.5,153.6 L463.6,165.7 L463.8,155.8 L463.9,168.7 L464.1,156.2 L464.2,164.4 L464.4,155.8 L464.6,165.0 L464.7,154.9 L464.8,166.8 L465.0,153.6 L465.1,164.1 L465.3,154.7 L465.4,162.4 L465.6,154.6 L465.8,164.4 L465.9,154.6 L466.1,162.6 L466.2,154.8 L466.3,162.7 L466.5,155.9 L466.6,163.7 L466.8,156.4 L466.9,161.6 L467.1,156.7 L467.2,163.2 L467.4,157.4 L467.6,163.2 L467.7,158.2 L467.8,164.7 L468.0,157.0 L468.1,163.7 L468.3,155.1 L468.4,164.8 L468.6,156.4 L468.8,161.5 L468.9,153.9 L469.1,163.8 L469.2,154.0 L469.3,166.7 L469.5,153.7 L469.6,165.7 L469.8,157.1 L469.9,164.3 L470.1,157.3 L470.2,162.5 L470.4,158.4 L470.6,161.8 L470.7,158.0 L470.8,162.6 L471.0,160.1 L471.1,164.1 L471.3,159.5 L471.4,163.2 L471.6,157.8 L471.8,161.9 L471.9,157.4 L472.1,166.4 L472.2,159.0 L472.3,163.6 L472.5,158.7 L472.6,163.6 L472.8,157.8 L472.9,163.8 L473.1,155.9 L473.2,169.0 L473.4,155.4 L473.6,169.6 L473.7,158.4 L473.8,167.2 L474.0,156.8 L474.1,163.9 L474.3,155.1 L474.4,164.2 L474.6,153.6 L474.8,164.5 L474.9,155.3 L475.1,164.3 L475.2,156.1 L475.3,166.1 L475.5,153.6 L475.6,164.2 L475.8,155.1 L475.9,166.2 L476.1,157.4 L476.2,165.7 L476.4,155.5 L476.6,166.8 L476.7,157.2 L476.8,166.3 L477.0,156.7 L477.1,168.9 L477.3,159.4 L477.4,169.7 L477.6,157.6 L477.8,168.2 L477.9,156.4 L478.1,168.6 L478.2,160.0 L478.3,167.9 L478.5,158.8 L478.6,165.2 L478.8,159.3 L478.9,164.6 L479.1,158.3 L479.2,163.8 L479.4,158.3 L479.6,164.6 L479.7,155.6 L479.8,164.0 L480.0,153.5 L480.1,161.2 L480.3,154.2 L480.4,159.9 L480.6,151.4 L480.8,159.3 L480.9,149.2 L481.1,159.1 L481.2,149.3 L481.3,157.5 L481.5,147.9 L481.6,156.6 L481.8,148.1 L481.9,157.9 L482.1,146.7 L482.2,157.6 L482.4,148.1 L482.6,156.9 L482.7,147.2 L482.8,155.7 L483.0,146.5 L483.1,158.3 L483.3,145.4 L483.4,155.0 L483.6,146.4 L483.8,156.0 L483.9,146.5 L484.1,156.8 L484.2,148.5 L484.3,157.1 L484.5,146.5 L484.6,156.6 L484.8,146.6 L484.9,157.1 L485.1,146.0 L485.2,162.5 L485.4,143.9 L485.6,159.7 L485.7,147.6 L485.8,161.4 L486.0,146.9 L486.1,161.1 L486.3,147.1 L486.4,157.2 L486.6,147.2 L486.8,158.6 L486.9,147.7 L487.1,156.4 L487.2,148.5 L487.3,159.7 L487.5,150.9 L487.6,160.2 L487.8,149.6 L487.9,158.1 L488.1,152.5 L488.2,160.8 L488.4,152.3 L488.6,161.4 L488.7,148.2 L488.8,164.0 L489.0,150.1 L489.1,164.9 L489.3,149.2 L489.4,165.1 L489.6,156.0 L489.8,164.3 L489.9,154.1 L490.1,167.3 L490.2,157.6 L490.3,165.5 L490.5,155.1 L490.6,164.7 L490.8,156.0 L490.9,166.6 L491.1,154.2 L491.2,163.5 L491.4,156.4 L491.6,164.2 L491.7,156.5 L491.8,167.2 L492.0,151.9 L492.1,167.9 L492.3,151.4 L492.4,167.7 L492.6,149.6 L492.8,167.4 L492.9,152.1 L493.1,164.2 L493.2,153.1 L493.3,163.4 L493.5,154.7 L493.6,163.0 L493.8,152.9 L493.9,166.5 L494.1,153.3 L494.2,165.7 L494.4,152.4 L494.6,165.0 L494.7,153.2 L494.8,163.9 L495.0,152.8 L495.1,165.1 L495.3,152.6 L495.4,164.8 L495.6,155.7 L495.8,169.5 L495.9,156.2 L496.1,166.4 L496.2,156.3 L496.3,169.6 L496.5,159.2 L496.6,168.9 L496.8,159.1 L496.9,171.0 L497.1,153.1 L497.2,173.8 L497.4,155.5 L497.6,174.2 L497.7,152.6 L497.8,167.1 L498.0,155.1 L498.1,173.4 L498.3,152.5 L498.4,175.5 L498.6,152.8 L498.8,172.2 L498.9,152.3 L499.1,170.4 L499.2,156.8 L499.3,167.4 L499.5,156.1 L499.6,165.3 L499.8,150.5 L499.9,165.7 L500.1,154.7 L500.2,165.3 L500.4,154.1 L500.6,167.3 L500.7,152.5 L500.8,166.8 L501.0,154.6 L501.1,164.9 L501.3,154.6 L501.4,166.2 L501.6,153.5 L501.8,166.6 L501.9,156.5 L502.1,166.0 L502.2,157.4 L502.3,167.1 L502.5,153.7 L502.6,165.9 L502.8,154.8 L502.9,165.9 L503.1,155.2 L503.2,165.1 L503.4,159.2 L503.6,163.4 L503.7,159.5 L503.8,163.7 L504.0,159.1 L504.1,163.6 L504.3,161.0 L504.4,165.5 L504.6,161.5 L504.8,165.2 L504.9,163.5 L505.1,167.1 L505.2,163.8 L505.3,165.9 L505.5,162.7 L505.6,166.6 L505.8,161.9 L505.9,166.5 L506.1,162.3 L506.2,166.8 L506.4,162.9 L506.6,168.0 L506.7,163.7 L506.8,172.3 L507.0,164.1 L507.1,168.2 L507.3,162.4 L507.4,166.6 L507.6,161.5 L507.8,167.1 L507.9,160.5 L508.1,168.1 L508.2,161.5 L508.3,168.3 L508.5,159.9 L508.6,170.5 L508.8,160.3 L508.9,173.2 L509.1,159.1 L509.2,174.3 L509.4,160.2 L509.6,174.6 L509.7,155.8 L509.8,170.6 L510.0,158.5 L510.1,175.2 L510.3,163.9 L510.4,173.5 L510.6,161.3 L510.8,177.8 L510.9,160.9 L511.1,182.7 L511.2,164.7 L511.3,180.9 L511.5,166.3 L511.6,177.8 L511.8,165.9 L511.9,179.5 L512.1,166.9 L512.2,182.4 L512.4,165.1 L512.5,180.7 L512.7,167.3 L512.8,182.2 L513.0,167.4 L513.1,180.3 L513.3,168.4 L513.5,178.9 L513.6,166.0 L513.8,180.1 L513.9,166.8 L514.0,180.3 L514.2,161.4 L514.3,180.8 L514.5,165.6 L514.6,178.2 L514.8,166.7 L515.0,177.6 L515.1,169.4 L515.2,176.0 L515.4,165.7 L515.5,176.9 L515.7,164.2 L515.8,178.0 L516.0,166.9 L516.1,177.6 L516.3,166.2 L516.5,178.4 L516.6,165.3 L516.8,174.9 L516.9,166.5 L517.0,174.4 L517.2,165.3 L517.3,174.3 L517.5,163.6 L517.6,175.0 L517.8,164.5 L518.0,175.8 L518.1,160.8 L518.2,170.3 L518.4,162.8 L518.5,173.3 L518.7,163.9 L518.8,169.5 L519.0,164.6 L519.1,167.4 L519.3,163.2 L519.5,167.8 L519.6,161.6 L519.8,168.9 L519.9,160.9 L520.0,170.2 L520.2,160.1 L520.3,168.6 L520.5,161.5 L520.6,166.6 L520.8,161.2 L521.0,167.7 L521.1,160.3 L521.2,170.2 L521.4,162.9 L521.5,171.7 L521.7,160.1 L521.8,172.6 L522.0,161.6 L522.1,170.8 L522.3,164.0 L522.5,171.7 L522.6,163.6 L522.8,169.3 L522.9,161.1 L523.0,169.7 L523.2,158.8 L523.3,172.4 L523.5,162.4 L523.6,173.9 L523.8,162.2 L524.0,177.2 L524.1,162.2 L524.2,172.1 L524.4,160.7 L524.5,173.1 L524.7,160.0 L524.8,170.3 L525.0,163.5 L525.1,170.9 L525.3,161.9 L525.5,171.9 L525.6,158.4 L525.8,175.0 L525.9,160.2 L526.0,170.2 L526.2,161.7 L526.3,170.7 L526.5,164.6 L526.6,173.9 L526.8,162.4 L527.0,174.5 L527.1,162.4 L527.2,172.3 L527.4,162.9 L527.5,172.5 L527.7,163.4 L527.8,172.6 L528.0,161.7 L528.1,173.8 L528.3,161.2 L528.5,175.1 L528.6,160.3 L528.8,176.0 L528.9,161.1 L529.0,175.5 L529.2,165.4 L529.3,173.8 L529.5,162.6 L529.6,171.0 L529.8,161.2 L530.0,168.9 L530.1,161.5 L530.2,172.5 L530.4,161.0 L530.5,170.8 L530.7,162.6 L530.8,171.3 L531.0,163.4 L531.1,173.1 L531.3,159.6 L531.5,170.8 L531.6,160.1 L531.8,175.9 L531.9,161.5 L532.0,173.8 L532.2,158.5 L532.3,173.4 L532.5,160.5 L532.6,175.4 L532.8,157.6 L533.0,173.1 L533.1,160.1 L533.2,172.9 L533.4,164.2 L533.5,174.0 L533.7,162.2 L533.8,172.4 L534.0,159.7 L534.1,173.3 L534.3,158.9 L534.5,173.0 L534.6,155.1 L534.8,180.4 L534.9,158.3 L535.0,176.2 L535.2,157.6 L535.3,176.0 L535.5,160.0 L535.6,175.6 L535.8,162.7 L536.0,176.1 L536.1,163.5 L536.2,174.4 L536.4,168.2 L536.5,174.5 L536.7,164.1 L536.8,179.3 L537.0,166.4 L537.1,176.3 L537.3,165.2 L537.5,180.0 L537.6,169.4 L537.8,178.7 L537.9,168.0 L538.0,177.6 L538.2,167.3 L538.3,177.6 L538.5,168.7 L538.6,176.8 L538.8,168.1 L539.0,176.0 L539.1,169.0 L539.2,174.5 L539.4,167.3 L539.5,175.9 L539.7,164.8 L539.8,174.6 L540.0,162.4 L540.1,171.9 L540.3,163.2 L540.5,171.7 L540.6,161.0 L540.8,170.7 L540.9,162.2 L541.0,173.9 L541.2,162.4 L541.3,171.0 L541.5,161.2 L541.6,170.9 L541.8,157.9 L542.0,167.8 L542.1,158.2 L542.2,168.7 L542.4,161.5 L542.5,170.0 L542.7,159.0 L542.8,170.3 L543.0,157.9 L543.1,172.6 L543.3,158.2 L543.5,170.3 L543.6,160.4 L543.8,167.7 L543.9,162.1 L544.0,168.5 L544.2,161.4 L544.3,168.9 L544.5,159.6 L544.6,170.1 L544.8,158.6 L545.0,167.9 L545.1,155.4 L545.2,168.7 L545.4,155.4 L545.5,166.7 L545.7,157.0 L545.8,167.8 L546.0,158.6 L546.1,168.2 L546.3,156.4 L546.5,171.6 L546.6,159.3 L546.8,171.5 L546.9,158.9 L547.0,170.8 L547.2,158.9 L547.3,170.4 L547.5,156.6 L547.6,174.5 L547.8,158.3 L548.0,176.6 L548.1,159.9 L548.2,172.8 L548.4,161.4 L548.5,170.8 L548.7,162.5 L548.8,172.8 L549.0,163.2 L549.1,173.7 L549.3,162.5 L549.5,172.4 L549.6,163.1 L549.8,175.0 L549.9,163.3 L550.0,173.4 L550.2,160.5 L550.3,172.0 L550.5,163.7 L550.6,171.0 L550.8,165.4 L551.0,170.6 L551.1,165.3 L551.2,170.3 L551.4,164.2 L551.5,170.9 L551.7,164.2 L551.8,170.2 L552.0,163.9 L552.1,169.3 L552.3,163.1 L552.5,172.1 L552.6,160.4 L552.8,169.6 L552.9,162.9 L553.0,168.2 L553.2,161.3 L553.3,172.0 L553.5,161.3 L553.6,170.8 L553.8,161.1 L554.0,170.8 L554.1,163.1 L554.2,169.5 L554.4,161.4 L554.5,169.2 L554.7,160.4 L554.8,169.3" stroke="#808080"/>
<path d="M198.0,163.5 L198.2,169.8 L198.3,161.4 L198.4,171.7 L198.6,162.8 L198.8,174.4 L198.9,162.4 L199.1,169.3 L199.2,160.4 L199.3,169.3 L199.5,163.0 L199.7,173.7 L199.8,157.8 L199.9,173.4 L200.1,162.2 L200.2,177.9 L200.4,159.8 L200.6,176.6 L200.7,164.7 L200.8,174.2 L201.0,164.6 L201.2,174.4 L201.3,165.6 L201.4,178.0 L201.6,163.6 L201.8,177.0 L201.9,164.8 L202.1,174.3 L202.2,165.5 L202.3,174.0 L202.5,164.9 L202.7,176.9 L202.8,163.7 L202.9,176.5 L203.1,164.8 L203.2,175.3 L203.4,163.6 L203.6,177.4 L203.7,164.7 L203.8,173.8 L204.0,160.5 L204.2,177.7 L204.3,164.9 L204.4,176.3 L204.6,163.7 L204.8,177.0 L204.9,162.8 L205.1,176.1 L205.2,163.6 L205.3,175.5 L205.5,162.7 L205.7,177.7 L205.8,161.6 L205.9,176.3 L206.1,163.3 L206.2,175.1 L206.4,164.6 L206.6,175.4 L206.7,161.5 L206.8,176.5 L207.0,164.3 L207.2,180.3 L207.3,157.8 L207.4,176.5 L207.6,163.1 L207.8,172.8 L207.9,159.0 L208.1,177.4 L208.2,161.3 L208.3,177.7 L208.5,158.8 L208.7,176.9 L208.8,162.7 L208.9,177.6 L209.1,166.9 L209.2,174.6 L209.4,163.5 L209.6,180.3 L209.7,163.0 L209.8,180.4 L210.0,165.5 L210.2,175.8 L210.3,164.4 L210.4,178.3 L210.6,164.4 L210.8,176.7 L210.9,165.9 L211.1,175.9 L211.2,164.7 L211.3,174.9 L211.5,163.2 L211.7,174.1 L211.8,162.7 L211.9,172.2 L212.1,162.7 L212.2,174.1 L212.4,164.0 L212.6,173.5 L212.7,162.2 L212.8,169.9 L213.0,161.5 L213.2,169.7 L213.3,162.3 L213.4,170.6 L213.6,165.4 L213.8,172.1 L213.9,164.0 L214.1,171.0 L214.2,165.5 L214.3,171.4 L214.5,162.9 L214.7,170.3 L214.8,162.8 L214.9,169.0 L215.1,163.8 L215.2,169.1 L215.4,164.6 L215.6,169.9 L215.7,161.4 L215.8,170.3 L216.0,163.8 L216.2,172.2 L216.3,162.2 L216.4,173.4 L216.6,163.8 L216.8,168.8 L216.9,160.2 L217.1,173.5 L217.2,161.8 L217.3,175.9 L217.5,162.6 L217.7,176.3 L217.8,163.3 L217.9,176.5 L218.1,162.2 L218.2,173.8 L218.4,164.8 L218.6,173.1 L218.7,162.7 L218.8,175.7 L219.0,164.1 L219.2,174.0 L219.3,163.6 L219.4,176.4 L219.6,163.7 L219.8,177.5 L219.9,162.8 L220.1,176.7 L220.2,163.7 L220.3,176.6 L220.5,164.8 L220.7,175.8 L220.8,164.3 L220.9,176.5 L221.1,162.4 L221.2,175.3 L221.4,161.7 L221.6,176.3 L221.7,163.0 L221.8,177.9 L222.0,163.2 L222.2,173.2 L222.3,163.4 L222.4,176.6 L222.6,162.9 L222.8,175.6 L222.9,163.6 L223.1,173.5 L223.2,162.8 L223.3,174.9 L223.5,162.6 L223.7,174.1 L223.8,164.4 L223.9,173.9 L224.1,164.3 L224.2,174.1 L224.4,163.5 L224.6,176.3 L224.7,161.2 L224.8,175.2 L225.0,162.0 L225.2,174.5 L225.3,160.0 L225.4,178.3 L225.6,160.6 L225.8,173.1 L225.9,160.7 L226.1,173.7 L226.2,163.6 L226.3,176.1 L226.5,165.9 L226.7,173.7 L226.8,163.4 L226.9,177.6 L227.1,160.1 L227.2,174.9 L227.4,162.0 L227.6,174.2 L227.7,164.1 L227.8,175.9 L228.0,161.9 L228.2,176.0 L228.3,162.3 L228.4,174.9 L228.6,163.5 L228.8,179.7 L228.9,162.3 L229.1,177.2 L229.2,164.9 L229.3,175.9 L229.5,162.8 L229.7,174.8 L229.8,162.0 L229.9,176.2 L230.1,162.2 L230.2,176.3 L230.4,158.3 L230.6,176.6 L230.7,162.8 L230.8,175.9 L231.0,158.4 L231.2,174.3 L231.3,164.4 L231.4,173.6 L231.6,165.3 L231.8,171.9 L231.9,160.8 L232.1,174.5 L232.2,162.1 L232.3,174.0 L232.5,160.0 L232.7,173.8 L232.8,164.7 L232.9,175.8 L233.1,161.9 L233.2,175.1 L233.4,160.1 L233.6,175.1 L233.7,158.5 L233.8,173.3 L234.0,161.3 L234.2,174.4 L234.3,161.0 L234.4,175.7 L234.6,162.0 L234.8,178.5 L234.9,162.0 L235.1,177.4 L235.2,164.7 L235.3,178.6 L235.5,165.8 L235.7,176.7 L235.8,164.7 L235.9,178.6 L236.1,162.1 L236.2,177.2 L236.4,166.3 L236.6,177.7 L236.7,167.2 L236.8,177.6 L237.0,167.4 L237.2,177.5 L237.3,169.8 L237.4,177.8 L237.6,169.2 L237.8,175.8 L237.9,167.6 L238.1,176.8 L238.2,165.9 L238.3,176.6 L238.5,160.9 L238.7,180.3 L238.8,159.1 L238.9,176.0 L239.1,163.5 L239.2,178.5 L239.4,162.1 L239.6,180.8 L239.7,158.0 L239.8,177.9 L240.0,160.9 L240.2,179.4 L240.3,156.9 L240.4,175.9 L240.6,161.5 L240.8,175.9 L240.9,161.2 L241.1,175.0 L241.2,163.3 L241.3,173.0 L241.5,158.7 L241.7,174.2 L241.8,159.6 L241.9,173.2 L242.1,162.4 L242.2,173.6 L242.4,161.6 L242.6,171.4 L242.7,163.7 L242.8,170.1 L243.0,163.6 L243.2,171.8 L243.3,165.2 L243.4,172.0 L243.6,160.2 L243.8,172.2 L243.9,161.5 L244.1,174.6 L244.2,164.8 L244.3,174.8 L244.5,166.4 L244.7,173.4 L244.8,165.8 L244.9,171.1 L245.1,164.8 L245.2,171.8 L245.4,167.0 L245.6,171.1 L245.7,167.0 L245.8,173.7 L246.0,167.0 L246.2,177.9 L246.3,163.0 L246.4,174.5 L246.6,167.8 L246.8,177.5 L246.9,161.7 L247.1,177.2 L247.2,165.0 L247.3,175.9 L247.5,166.2 L247.7,175.9 L247.8,166.5 L247.9,176.3 L248.1,166.5 L248.2,177.9 L248.4,167.4 L248.6,174.4 L248.7,163.0 L248.8,173.9 L249.0,164.5 L249.2,176.8 L249.3,166.1 L249.4,176.4 L249.6,165.1 L249.8,174.2 L249.9,165.6 L250.1,172.2 L250.2,159.3 L250.3,174.9 L250.5,161.0 L250.7,173.2 L250.8,162.3 L250.9,169.8 L251.1,162.7 L251.2,172.1 L251.4,162.9 L251.6,174.1 L251.7,163.4 L251.8,174.3 L252.0,167.3 L252.2,176.3 L252.3,167.5 L252.4,174.7 L252.6,165.7 L252.8,173.0 L252.9,168.1 L253.1,172.4 L253.2,169.4 L253.3,175.2 L253.5,168.0 L253.7,174.8 L253.8,169.0 L253.9,176.2 L254.1,168.2 L254.2,174.9 L254.4,168.1 L254.6,172.3 L254.7,167.2 L254.8,172.1 L255.0,165.6 L255.2,171.8 L255.3,163.5 L255.4,172.5 L255.6,163.8 L255.8,176.4 L255.9,159.8 L256.1,173.7 L256.2,161.3 L256.4,175.7 L256.5,161.0 L256.6,176.1 L256.8,164.2 L256.9,175.8 L257.1,165.1 L257.2,176.2 L257.4,167.5 L257.6,182.2 L257.7,168.2 L257.9,185.1 L258.0,164.3 L258.1,180.3 L258.3,167.7 L258.4,182.2 L258.6,169.4 L258.8,180.6 L258.9,168.7 L259.1,181.9 L259.2,169.9 L259.4,182.7 L259.5,169.7 L259.6,183.5 L259.8,170.6 L259.9,184.3 L260.1,168.6 L260.2,185.3 L260.4,169.0 L260.6,181.2 L260.7,171.4 L260.9,180.0 L261.0,172.4 L261.1,177.5 L261.3,171.3 L261.4,177.4 L261.6,173.4 L261.8,178.0 L261.9,171.3 L262.1,179.7 L262.2,172.3 L262.4,176.2 L262.5,171.7 L262.6,175.5 L262.8,171.9 L262.9,174.6 L263.1,170.1 L263.2,177.2 L263.4,165.9 L263.6,176.5 L263.7,168.5 L263.9,177.2 L264.0,167.3 L264.1,176.8 L264.3,170.1 L264.4,175.7 L264.6,166.7 L264.8,175.3 L264.9,168.5 L265.1,174.8 L265.2,166.1 L265.4,176.4 L265.5,166.7 L265.6,179.6 L265.8,168.2 L265.9,179.5 L266.1,165.7 L266.2,180.2 L266.4,166.1 L266.6,184.9 L266.7,164.8 L266.9,180.6 L267.0,166.9 L267.1,178.4 L267.3,165.3 L267.4,180.6 L267.6,163.9 L267.8,177.7 L267.9,168.2 L268.1,179.0 L268.2,169.0 L268.4,178.5 L268.5,164.9 L268.6,178.5 L268.8,163.0 L268.9,181.4 L269.1,163.2 L269.2,181.3 L269.4,165.8 L269.6,183.1 L269.7,163.4 L269.9,178.9 L270.0,167.0 L270.1,177.0 L270.3,165.4 L270.4,179.8 L270.6,159.0 L270.8,183.4 L270.9,156.3 L271.1,183.8 L271.2,162.7 L271.4,185.3 L271.5,164.2 L271.6,183.5 L271.8,168.8 L271.9,180.7 L272.1,169.0 L272.2,181.0 L272.4,170.2 L272.6,180.8 L272.7,169.6 L272.9,178.7 L273.0,170.7 L273.1,184.5 L273.3,171.4 L273.4,183.6 L273.6,169.8 L273.8,182.6 L273.9,167.3 L274.1,187.4 L274.2,168.9 L274.4,180.4 L274.5,169.3 L274.6,182.0 L274.8,167.3 L274.9,182.8 L275.1,165.8 L275.2,179.2 L275.4,167.5 L275.6,180.7 L275.7,169.8 L275.9,183.3 L276.0,167.9 L276.1,182.8 L276.3,163.9 L276.4,185.8 L276.6,163.7 L276.8,185.6 L276.9,167.2 L277.1,182.0 L277.2,167.3 L277.4,183.1 L277.5,166.1 L277.6,181.5 L277.8,167.5 L277.9,181.3 L278.1,164.6 L278.2,183.6 L278.4,163.6 L278.6,182.0 L278.7,165.8 L278.9,181.3 L279.0,166.8 L279.1,183.2 L279.3,164.8 L279.4,186.4 L279.6,166.7 L279.8,184.2 L279.9,167.0 L280.1,182.8 L280.2,164.5 L280.4,183.8 L280.5,167.0 L280.6,182.2 L280.8,164.3 L280.9,181.5 L281.1,167.5 L281.2,184.8 L281.4,166.8 L281.6,184.9 L281.7,165.1 L281.9,181.7 L282.0,160.9 L282.1,182.8 L282.3,157.1 L282.4,186.5 L282.6,155.9 L282.8,178.3 L282.9,163.9 L283.1,176.7 L283.2,165.0 L283.4,175.4 L283.5,164.3 L283.6,180.0 L283.8,165.4 L283.9,175.1 L284.1,166.1 L284.2,179.6 L284.4,165.9 L284.6,175.5 L284.7,165.8 L284.9,175.1 L285.0,164.0 L285.1,174.8 L285.3,165.9 L285.4,174.2 L285.6,166.1 L285.8,174.8 L285.9,168.6 L286.1,173.6 L286.2,168.0 L286.4,171.4 L286.5,167.4 L286.6,172.1 L286.8,167.6 L286.9,171.5 L287.1,167.7 L287.2,175.5 L287.4,167.6 L287.6,174.1 L287.7,165.5 L287.9,174.6 L288.0,160.9 L288.1,175.5 L288.3,163.1 L288.4,178.3 L288.6,165.6 L288.8,177.5 L288.9,162.5 L289.1,176.9 L289.2,163.4 L289.4,177.7 L289.5,163.8 L289.6,176.7 L289.8,162.0 L289.9,178.3 L290.1,161.7 L290.2,177.9 L290.4,163.3 L290.6,178.4 L290.7,169.2 L290.9,199.9 L291.0,176.4 L291.1,248.3 L291.3,185.7 L291.4,249.2 L291.6,200.6 L291.8,256.0 L291.9,199.0 L292.1,270.2 L292.2,194.2 L292.4,254.4 L292.5,183.6 L292.6,260.3 L292.8,192.3 L292.9,262.9 L293.1,191.0 L293.2,280.5 L293.4,192.6 L293.6,247.1 L293.7,194.3 L293.9,229.4 L294.0,199.3 L294.1,225.4 L294.3,191.7 L294.4,221.8 L294.6,196.8 L294.8,220.5 L294.9,194.8 L295.1,220.9 L295.2,194.5 L295.4,217.6 L295.5,193.0 L295.6,212.4 L295.8,189.9 L295.9,220.4 L296.1,184.5 L296.2,217.2 L296.4,189.2 L296.6,216.8 L296.7,188.9 L296.9,222.5 L297.0,185.8 L297.1,214.7 L297.3,179.5 L297.4,214.1 L297.6,182.4 L297.8,206.2 L297.9,180.8 L298.1,208.4 L298.2,177.6 L298.4,208.4 L298.5,178.0 L298.6,207.3 L298.8,180.0 L298.9,205.2 L299.1,176.3 L299.2,204.2 L299.4,176.7 L299.6,204.4 L299.7,178.6 L299.9,205.0 L300.0,176.2 L300.1,208.0 L300.3,178.7 L300.4,202.7 L300.6,184.6 L300.8,203.7 L300.9,186.9 L301.1,204.2 L301.2,184.9 L301.4,207.6 L301.5,182.9 L301.6,209.8 L301.8,187.4 L301.9,209.0 L302.1,190.5 L302.2,211.8 L302.4,188.6 L302.6,209.9 L302.7,190.7 L302.9,211.7 L303.0,191.0 L303.1,212.0 L303.3,190.3 L303.4,211.5 L303.6,194.7 L303.8,211.9 L303.9,190.9 L304.1,212.3 L304.2,190.3 L304.4,210.3 L304.5,187.3 L304.6,213.5 L304.8,188.5 L304.9,210.2 L305.1,188.2 L305.2,206.0 L305.4,188.6 L305.6,204.3 L305.7,185.9 L305.9,206.7 L306.0,182.8 L306.1,209.8 L306.3,177.6 L306.4,211.8 L306.6,176.9 L306.8,203.2 L306.9,186.2 L307.1,205.2 L307.2,182.4 L307.4,202.7 L307.5,182.5 L307.6,199.7 L307.8,184.9 L307.9,196.5 L308.1,181.9 L308.2,198.0 L308.4,185.3 L308.6,201.9 L308.7,182.0 L308.9,203.6 L309.0,184.4 L309.1,200.5 L309.3,184.7 L309.4,204.9 L309.6,184.7 L309.8,203.9 L309.9,184.3 L310.1,204.2 L310.2,186.2 L310.4,204.0 L310.5,183.3 L310.6,208.9 L310.8,186.3 L310.9,206.2 L311.1,184.4 L311.2,210.5 L311.4,182.9 L311.6,209.1 L311.7,186.0 L311.9,205.0 L312.0,180.1 L312.1,205.2 L312.3,184.0 L312.4,204.2 L312.6,180.3 L312.8,203.6 L312.9,182.6 L313.1,203.6 L313.2,181.0 L313.4,199.9 L313.5,180.8 L313.6,202.5 L313.8,182.9 L313.9,199.6 L314.1,183.7 L314.2,205.7 L314.4,178.0 L314.6,201.4 L314.7,179.6 L314.9,202.5 L315.0,183.1 L315.1,198.5 L315.3,180.7 L315.4,198.5 L315.6,180.5 L315.8,197.9 L315.9,184.8 L316.1,198.2 L316.2,181.6 L316.4,199.2 L316.5,180.1 L316.6,198.8 L316.8,182.3 L316.9,195.2 L317.1,179.6 L317.2,198.1 L317.4,179.1 L317.6,198.8 L317.7,178.6 L317.9,203.2 L318.0,184.6 L318.1,204.7 L318.3,186.6 L318.4,206.3 L318.6,184.4 L318.8,208.2 L318.9,179.7 L319.1,204.6 L319.2,172.8 L319.4,202.3 L319.5,115.2 L319.6,184.5 L319.8,114.1 L319.9,181.3 L320.1,109.1 L320.2,199.5 L320.4,111.5 L320.6,182.4 L320.7,123.8 L320.9,187.8 L321.0,114.2 L321.1,186.3 L321.3,119.6 L321.4,194.1 L321.6,114.5 L321.8,193.6 L321.9,109.0 L322.1,186.3 L322.2,121.0 L322.4,193.7 L322.5,121.4 L322.6,185.9 L322.8,118.2 L322.9,177.4 L323.1,139.1 L323.2,186.9 L323.4,135.9 L323.6,190.7 L323.7,141.6 L323.9,192.0 L324.0,140.1 L324.1,179.3 L324.3,130.0 L324.4,189.8 L324.6,136.8 L324.8,182.6 L324.9,134.8 L325.1,188.7 L325.2,141.1 L325.4,184.0 L325.5,140.6 L325.6,180.5 L325.8,138.6 L325.9,176.8 L326.1,136.6 L326.2,182.9 L326.4,134.6 L326.5,179.8 L326.7,142.7 L326.9,173.2 L327.0,148.7 L327.1,177.8 L327.3,140.9 L327.4,181.2 L327.6,150.6 L327.8,179.7 L327.9,146.5 L328.0,178.2 L328.2,148.0 L328.4,175.0 L328.5,153.7 L328.6,180.9 L328.8,147.0 L328.9,180.6 L329.1,153.1 L329.2,184.8 L329.4,154.8 L329.5,179.3 L329.7,155.8 L329.9,178.3 L330.0,153.1 L330.1,178.3 L330.3,153.9 L330.4,177.7 L330.6,159.1 L330.8,180.6 L330.9,157.7 L331.0,178.9 L331.2,154.2 L331.4,176.6 L331.5,159.7 L331.6,177.5 L331.8,159.0 L331.9,183.5 L332.1,153.3 L332.2,177.1 L332.4,157.0 L332.5,180.5 L332.7,154.9 L332.9,178.4 L333.0,154.7 L333.1,177.2 L333.3,158.7 L333.4,176.6 L333.6,157.9 L333.8,175.8 L333.9,155.1 L334.0,173.0 L334.2,154.7 L334.4,173.7 L334.5,153.5 L334.6,176.7 L334.8,152.2 L334.9,175.7 L335.1,155.9 L335.2,172.8 L335.4,152.6 L335.5,174.8 L335.7,157.0 L335.9,172.5 L336.0,156.1 L336.1,172.3 L336.3,153.5 L336.4,172.1 L336.6,154.5 L336.8,174.4 L336.9,156.1 L337.0,174.9 L337.2,154.9 L337.4,172.6 L337.5,153.6 L337.6,174.3 L337.8,157.8 L337.9,174.7 L338.1,157.3 L338.2,173.7 L338.4,153.8 L338.5,175.7 L338.7,158.0 L338.9,176.0 L339.0,160.3 L339.1,175.9 L339.3,159.3 L339.4,171.9 L339.6,157.8 L339.8,172.9 L339.9,158.0 L340.0,171.6 L340.2,160.8 L340.4,173.8 L340.5,161.3 L340.6,173.9 L340.8,160.2 L340.9,175.6 L341.1,159.7 L341.2,175.1 L341.4,158.9 L341.5,171.6 L341.7,158.3 L341.9,174.3 L342.0,160.3 L342.1,173.5 L342.3,160.2 L342.4,173.4 L342.6,158.8 L342.8,172.5 L342.9,157.1 L343.0,172.8 L343.2,157.3 L343.4,173.6 L343.5,159.0 L343.6,171.0 L343.8,159.6 L343.9,172.7 L344.1,160.9 L344.2,171.2 L344.4,160.3 L344.5,173.9 L344.7,158.9 L344.9,174.4 L345.0,162.2 L345.1,172.8 L345.3,160.2 L345.4,173.1 L345.6,160.3 L345.8,172.6 L345.9,159.1 L346.0,172.6 L346.2,162.6 L346.4,174.3 L346.5,160.5 L346.6,173.2 L346.8,160.9 L346.9,173.8 L347.1,161.0 L347.2,173.5 L347.4,163.9 L347.5,173.5 L347.7,161.4 L347.9,176.1 L348.0,162.8 L348.1,176.8 L348.3,163.7 L348.4,177.7 L348.6,166.7 L348.8,176.2 L348.9,163.2 L349.0,174.4 L349.2,162.2 L349.4,174.2 L349.5,163.6 L349.6,174.6 L349.8,165.0 L349.9,174.5 L350.1,166.1 L350.2,174.0 L350.4,162.7 L350.5,173.9 L350.7,161.5 L350.9,174.8 L351.0,159.2 L351.1,172.3 L351.3,161.2 L351.4,174.0 L351.6,163.4 L351.8,178.8 L351.9,164.3 L352.0,177.0 L352.2,162.9 L352.4,178.6 L352.5,162.3 L352.6,176.6 L352.8,165.9 L352.9,174.1 L353.1,164.5 L353.2,175.4 L353.4,166.0 L353.5,175.2 L353.7,166.7 L353.9,177.1 L354.0,167.1 L354.1,176.9 L354.3,168.4 L354.4,176.5 L354.6,164.6 L354.8,175.4 L354.9,167.2 L355.0,173.3 L355.2,165.6 L355.4,172.9 L355.5,167.1 L355.6,174.4 L355.8,170.2 L355.9,176.0 L356.1,169.4 L356.2,180.3 L356.4,165.2 L356.5,184.0 L356.7,167.6 L356.9,185.3 L357.0,166.7 L357.1,180.0 L357.3,169.3 L357.4,180.0 L357.6,169.5 L357.8,180.1 L357.9,172.6 L358.0,180.4 L358.2,172.6 L358.4,182.7 L358.5,173.2 L358.6,184.1 L358.8,169.3 L358.9,180.7 L359.1,167.6 L359.2,182.1 L359.4,168.1 L359.5,180.1 L359.7,169.6 L359.9,180.8 L360.0,171.9 L360.1,184.1 L360.3,173.1 L360.4,182.1 L360.6,170.5 L360.8,187.3 L360.9,164.9 L361.0,182.0 L361.2,170.3 L361.4,182.8 L361.5,170.7 L361.6,181.3 L361.8,170.4 L361.9,182.1 L362.1,168.6 L362.2,181.3 L362.4,168.3 L362.5,182.9 L362.7,168.8 L362.9,180.7 L363.0,164.5 L363.1,181.7 L363.3,164.6 L363.4,181.5 L363.6,164.2 L363.8,185.1 L363.9,164.2 L364.0,180.6 L364.2,164.5 L364.4,181.0 L364.5,160.8 L364.6,180.4 L364.8,165.4 L364.9,176.6 L365.1,163.6 L365.2,174.7 L365.4,165.2 L365.5,174.7 L365.7,166.6 L365.9,179.0 L366.0,162.1 L366.1,176.0 L366.3,165.0 L366.4,177.0 L366.6,163.9 L366.8,173.0 L366.9,166.6 L367.0,175.3 L367.2,166.5 L367.4,175.6 L367.5,164.3 L367.6,174.1 L367.8,166.5 L367.9,174.6 L368.1,167.2 L368.2,177.3 L368.4,165.3 L368.5,176.2 L368.7,163.1 L368.9,179.2 L369.0,159.8 L369.1,181.0 L369.3,162.7 L369.4,175.6 L369.6,167.0 L369.8,174.5 L369.9,165.9 L370.0,171.8 L370.2,164.8 L370.4,175.2 L370.5,163.0 L370.6,172.7 L370.8,165.3 L370.9,174.0 L371.1,164.7 L371.2,172.1 L371.4,163.3 L371.5,170.7 L371.7,162.5 L371.9,169.6 L372.0,161.9 L372.1,172.8 L372.3,157.4 L372.4,170.7 L372.6,153.8 L372.8,172.2 L372.9,156.0 L373.0,175.5 L373.2,156.8 L373.4,172.9 L373.5,155.1 L373.6,167.8 L373.8,158.4 L373.9,169.9 L374.1,156.6 L374.2,171.8 L374.4,150.9 L374.5,170.5 L374.7,151.1 L374.9,169.2 L375.0,151.6 L375.1,170.2 L375.3,152.2 L375.4,167.4 L375.6,155.7 L375.8,171.0 L375.9,151.4 L376.0,167.7 L376.2,152.4 L376.4,165.9 L376.5,152.4 L376.6,165.6 L376.8,152.1 L376.9,163.5 L377.1,150.4 L377.2,154.9 L377.4,144.7 L377.5,151.8 L377.7,140.4 L377.9,146.4 L378.0,137.3 L378.1,140.3 L378.3,134.7 L378.4,137.8 L378.6,128.6 L378.8,134.4 L378.9,123.6 L379.0,129.2 L379.2,117.6 L379.4,122.1 L379.5,115.1 L379.6,116.1 L379.8,109.3 L379.9,110.8 L380.1,105.1 L380.2,107.8 L380.4,100.2 L380.5,106.8 L380.7,96.9 L380.9,101.4 L381.0,91.8 L381.1,95.4 L381.3,88.9 L381.4,94.3 L381.6,87.0 L381.8,90.4 L381.9,83.1 L382.0,85.9 L382.2,81.5 L382.4,85.2 L382.5,79.6 L382.6,83.7 L382.8,79.2 L382.9,83.8 L383.1,78.0 L383.2,81.9 L383.4,76.1 L383.5,80.7 L383.7,75.8 L383.9,79.3 L384.0,74.5 L384.1,79.6 L384.3,74.5 L384.4,79.0 L384.6,74.0 L384.8,76.6 L384.9,72.5 L385.0,79.3 L385.2,69.4 L385.4,79.9 L385.5,72.9 L385.6,80.4 L385.8,71.6 L385.9,81.8 L386.1,73.7 L386.2,82.2 L386.4,74.6 L386.5,81.5 L386.7,77.6 L386.9,83.9 L387.0,79.8 L387.1,86.5 L387.3,82.7 L387.4,90.2 L387.6,84.8 L387.8,93.1 L387.9,91.2 L388.0,95.1 L388.2,91.3 L388.4,99.1 L388.5,95.0 L388.6,101.0 L388.8,96.5 L388.9,101.0 L389.1,97.6 L389.2,100.4 L389.4,97.9 L389.5,101.3 L389.7,99.7 L389.9,103.5 L390.0,98.0 L390.1,103.8 L390.3,100.6 L390.4,103.8 L390.6,101.1 L390.8,106.3 L390.9,98.2 L391.0,104.3 L391.2,100.8 L391.4,106.3 L391.5,99.8 L391.6,107.2 L391.8,102.3 L391.9,106.7 L392.1,102.4 L392.2,111.9 L392.4,107.0 L392.5,114.0 L392.7,109.7 L392.9,116.4 L393.0,109.9 L393.1,121.1 L393.3,112.4 L393.4,121.0 L393.6,112.1 L393.8,121.7 L393.9,110.9 L394.0,123.9 L394.2,106.8 L394.4,123.1 L394.5,107.2 L394.6,118.0 L394.8,104.9 L394.9,117.2 L395.1,106.9 L395.2,113.9 L395.4,99.2 L395.5,108.8 L395.7,99.8 L395.9,108.0 L396.0,95.7 L396.1,106.5 L396.3,96.3 L396.4,103.3 L396.6,91.8 L396.8,98.5 L396.9,89.2 L397.0,95.2 L397.2,88.1 L397.4,93.7 L397.5,87.1 L397.6,90.2 L397.8,83.6 L397.9,89.6 L398.1,80.9 L398.2,88.0 L398.4,80.1 L398.5,89.5 L398.7,76.0 L398.9,88.5 L399.0,74.8 L399.1,83.3 L399.3,70.0 L399.4,82.8 L399.6,70.9 L399.8,81.4 L399.9,73.9 L400.0,78.8 L400.2,72.1 L400.4,79.0 L400.5,71.4 L400.6,79.1 L400.8,69.6 L400.9,80.6 L401.1,71.9 L401.2,84.0 L401.4,71.4 L401.5,86.6 L401.7,74.3 L401.9,82.2 L402.0,73.5 L402.1,86.2 L402.3,73.1 L402.4,85.6 L402.6,77.5 L402.8,86.9 L402.9,80.0 L403.0,90.5 L403.2,83.0 L403.4,95.6 L403.5,83.9 L403.6,96.0 L403.8,85.3 L403.9,96.0 L404.1,89.5 L404.2,98.8 L404.4,90.3 L404.5,99.7 L404.7,90.6 L404.9,103.1 L405.0,95.5 L405.1,105.5 L405.3,97.8 L405.4,108.3 L405.6,101.8 L405.8,112.8 L405.9,103.9 L406.0,115.5 L406.2,106.3 L406.4,119.9 L406.5,107.7 L406.6,120.6 L406.8,113.2 L406.9,120.3 L407.1,115.4 L407.2,121.1 L407.4,118.1 L407.5,123.5 L407.7,116.4 L407.9,125.0 L408.0,119.9 L408.1,130.8 L408.3,119.6 L408.4,128.7 L408.6,121.7 L408.8,132.3 L408.9,121.7 L409.0,130.6 L409.2,124.4 L409.4,129.2 L409.5,123.3 L409.6,127.6 L409.8,122.3 L409.9,126.4 L410.1,119.1 L410.2,129.2 L410.4,118.7 L410.5,124.7 L410.7,117.0 L410.9,123.0 L411.0,114.1 L411.1,122.2 L411.3,112.6 L411.4,117.9 L411.6,111.9 L411.8,115.6 L411.9,109.8 L412.0,114.0 L412.2,107.0 L412.4,109.3 L412.5,102.4 L412.6,108.1 L412.8,101.2 L412.9,106.7 L413.1,96.9 L413.2,104.3 L413.4,97.0 L413.5,102.9 L413.7,96.4 L413.9,101.6 L414.0,95.1 L414.1,99.9 L414.3,91.8 L414.4,99.5 L414.6,88.8 L414.8,97.4 L414.9,86.3 L415.0,95.2 L415.2,83.4 L415.4,97.6 L415.5,84.2 L415.6,95.5 L415.8,84.4 L415.9,93.9 L416.1,82.9 L416.2,92.7 L416.4,81.9 L416.5,93.0 L416.7,78.7 L416.9,89.9 L417.0,79.4 L417.1,92.3 L417.3,81.0 L417.4,91.8 L417.6,83.0 L417.8,92.7 L417.9,80.8 L418.0,94.2 L418.2,80.3 L418.4,98.7 L418.5,84.5 L418.6,100.1 L418.8,88.3 L418.9,102.7 L419.1,92.8 L419.2,104.1 L419.4,94.8 L419.5,107.8 L419.7,98.0 L419.9,111.5 L420.0,103.1 L420.1,115.1 L420.3,106.7 L420.4,117.5 L420.6,108.5 L420.8,122.0 L420.9,115.0 L421.0,124.1 L421.2,117.3 L421.4,127.6 L421.5,119.9 L421.6,128.7 L421.8,122.3 L421.9,131.3 L422.1,124.9 L422.2,136.0 L422.4,128.2 L422.5,137.5 L422.7,131.8 L422.9,137.8 L423.0,133.6 L423.1,140.5 L423.3,133.9 L423.4,141.5 L423.6,138.0 L423.8,145.3 L423.9,138.5 L424.0,146.2 L424.2,140.7 L424.4,144.8 L424.5,139.0 L424.6,143.3 L424.8,138.6 L424.9,141.1 L425.1,135.4 L425.2,140.8 L425.4,134.9 L425.5,138.6 L425.7,135.2 L425.9,137.8 L426.0,133.6 L426.1,133.9 L426.3,130.4 L426.4,133.0 L426.6,129.1 L426.8,131.2 L426.9,124.6 L427.0,129.8 L427.2,122.6 L427.4,128.8 L427.5,119.9 L427.6,126.8 L427.8,120.0 L427.9,123.6 L428.1,119.4 L428.2,122.1 L428.4,116.9 L428.5,119.5 L428.7,115.4 L428.9,117.6 L429.0,113.2 L429.1,116.1 L429.3,110.7 L429.4,114.9 L429.6,106.5 L429.8,112.3 L429.9,104.6 L430.0,111.7 L430.2,104.1 L430.4,109.4 L430.5,102.3 L430.6,111.3 L430.8,98.4 L430.9,108.1 L431.1,96.9 L431.2,107.7 L431.4,98.3 L431.5,110.2 L431.7,95.8 L431.9,107.2 L432.0,98.1 L432.1,109.2 L432.3,100.8 L432.4,110.5 L432.6,100.7 L432.8,111.1 L432.9,102.8 L433.0,113.1 L433.2,101.5 L433.4,114.0 L433.5,101.4 L433.6,114.9 L433.8,106.0 L433.9,114.0 L434.1,110.0 L434.2,116.8 L434.4,113.3 L434.5,118.6 L434.7,114.2 L434.9,121.4 L435.0,119.1 L435.1,123.4 L435.3,119.2 L435.4,125.3 L435.6,121.0 L435.8,129.1 L435.9,122.0 L436.0,130.7 L436.2,126.6 L436.4,132.8 L436.5,129.1 L436.6,135.0 L436.8,129.1 L436.9,135.5 L437.1,132.7 L437.2,136.1 L437.4,134.1 L437.5,137.6 L437.7,131.5 L437.9,138.2 L438.0,128.8 L438.1,140.7 L438.3,128.1 L438.4,142.5 L438.6,130.4 L438.8,141.8 L438.9,131.6 L439.0,140.7 L439.2,134.8 L439.4,141.9 L439.5,135.5 L439.6,139.6 L439.8,133.6 L439.9,138.5 L440.1,132.0 L440.2,142.2 L440.4,126.7 L440.5,141.4 L440.7,126.5 L440.9,138.7 L441.0,129.5 L441.1,137.9 L441.3,129.0 L441.4,136.0 L441.6,125.1 L441.8,135.9 L441.9,127.3 L442.0,134.6 L442.2,126.2 L442.4,134.9 L442.5,122.5 L442.6,133.4 L442.8,121.3 L442.9,134.1 L443.1,123.3 L443.2,129.6 L443.4,122.5 L443.5,128.9 L443.7,121.7 L443.9,131.8 L444.0,122.5 L444.1,128.3 L444.3,123.0 L444.4,126.0 L444.6,122.2 L444.8,127.2 L444.9,120.4 L445.0,126.2 L445.2,117.9 L445.4,124.2 L445.5,115.5 L445.6,122.6 L445.8,115.8 L445.9,121.8 L446.1,112.9 L446.2,120.6 L446.4,114.1 L446.5,120.0 L446.7,112.5 L446.9,118.8 L447.0,112.3 L447.1,121.4 L447.3,109.2 L447.4,122.1 L447.6,110.2 L447.8,121.5 L447.9,110.7 L448.0,118.8 L448.2,110.1 L448.4,121.3 L448.5,111.9 L448.6,121.3 L448.8,113.7 L448.9,123.7 L449.1,118.3 L449.2,128.9 L449.4,117.9 L449.5,127.2 L449.7,119.1 L449.9,129.5 L450.0,118.9 L450.1,132.8 L450.3,119.7 L450.4,133.3 L450.6,121.4 L450.8,135.3 L450.9,125.0 L451.0,133.9 L451.2,128.2 L451.4,135.6 L451.5,128.7 L451.6,135.9 L451.8,129.7 L451.9,133.9 L452.1,127.7 L452.2,134.4 L452.4,129.3 L452.5,134.5 L452.7,130.0 L452.9,138.8 L453.0,130.2 L453.1,139.8 L453.3,132.7 L453.4,140.2 L453.6,134.8 L453.8,142.9 L453.9,133.9 L454.1,144.7 L454.2,134.8 L454.3,144.1 L454.5,136.6 L454.6,144.8 L454.8,138.3 L454.9,149.5 L455.1,140.4 L455.2,151.1 L455.4,140.9 L455.6,151.0 L455.7,143.4 L455.8,149.6 L456.0,143.1 L456.1,153.8 L456.3,144.2 L456.4,155.0 L456.6,144.6 L456.8,151.8 L456.9,146.2 L457.1,151.2 L457.2,144.6 L457.3,152.7 L457.5,146.1 L457.6,155.4 L457.8,145.6 L457.9,154.2 L458.1,141.1 L458.2,155.7 L458.4,144.8 L458.6,156.2 L458.7,146.3 L458.8,156.5 L459.0,144.9 L459.1,157.3 L459.3,144.8 L459.4,156.6 L459.6,145.2 L459.8,156.3 L459.9,146.7 L460.1,157.3 L460.2,144.6 L460.3,162.4 L460.5,147.0 L460.6,162.5 L460.8,146.2 L460.9,161.1 L461.1,148.7 L461.2,164.3 L461.4,151.6 L461.6,162.4 L461.7,149.1 L461.8,161.5 L462.0,151.7 L462.1,164.8 L462.3,150.1 L462.4,169.1 L462.6,148.6 L462.8,163.1 L462.9,154.3 L463.1,160.9 L463.2,151.4 L463.3,161.6 L463.5,147.2 L463.6,162.2 L463.8,153.5 L463.9,160.6 L464.1,154.1 L464.2,161.6 L464.4,154.0 L464.6,167.0 L464.7,151.2 L464.8,167.7 L465.0,148.4 L465.1,172.1 L465.3,150.8 L465.4,169.1 L465.6,152.3 L465.8,170.2 L465.9,147.3 L466.1,170.2 L466.2,154.2 L466.3,164.5 L466.5,152.4 L466.6,165.1 L466.8,150.3 L466.9,164.5 L467.1,151.3 L467.2,163.9 L467.4,149.9 L467.6,166.2 L467.7,149.8 L467.8,163.8 L468.0,147.0 L468.1,170.1 L468.3,144.5 L468.4,165.4 L468.6,146.0 L468.8,168.0 L468.9,144.2 L469.1,166.0 L469.2,149.1 L469.3,165.7 L469.5,149.5 L469.6,163.4 L469.8,151.1 L469.9,162.2 L470.1,148.3 L470.2,163.3 L470.4,148.4 L470.6,161.1 L470.7,149.4 L470.8,164.7 L471.0,151.0 L471.1,163.3 L471.3,150.8 L471.4,165.0 L471.6,148.7 L471.8,166.6 L471.9,148.5 L472.1,163.6 L472.2,152.3 L472.3,163.6 L472.5,152.3 L472.6,162.6 L472.8,148.1 L472.9,166.3 L473.1,143.3 L473.2,167.5 L473.4,148.4 L473.6,171.3 L473.7,148.5 L473.8,165.5 L474.0,153.3 L474.1,159.9 L474.3,148.8 L474.4,161.1 L474.6,150.2 L474.8,163.8 L474.9,148.2 L475.1,162.8 L475.2,148.8 L475.3,163.6 L475.5,149.8 L475.6,161.0 L475.8,153.1 L475.9,160.3 L476.1,153.3 L476.2,160.8 L476.4,152.0 L476.6,161.4 L476.7,151.6 L476.8,162.7 L477.0,153.4 L477.1,160.5 L477.3,154.2 L477.4,163.0 L477.6,155.6 L477.8,162.1 L477.9,151.6 L478.1,163.2 L478.2,153.7 L478.3,162.2 L478.5,153.7 L478.6,163.3 L478.8,153.8 L478.9,162.3 L479.1,153.6 L479.2,161.6 L479.4,151.5 L479.6,164.3 L479.7,149.4 L479.8,162.2 L480.0,149.6 L480.1,162.7 L480.3,150.2 L480.4,163.6 L480.6,152.3 L480.8,165.3 L480.9,151.4 L481.1,163.6 L481.2,150.6 L481.3,162.2 L481.5,151.1 L481.6,162.1 L481.8,152.5 L481.9,162.1 L482.1,152.6 L482.2,161.0 L482.4,152.1 L482.6,162.2 L482.7,152.3 L482.8,163.3 L483.0,153.7 L483.1,165.0 L483.3,153.2 L483.4,162.1 L483.6,152.5 L483.8,159.9 L483.9,152.4 L484.1,163.7 L484.2,151.5 L484.3,161.3 L484.5,155.6 L484.6,163.4 L484.8,155.6 L484.9,162.6 L485.1,154.6 L485.2,162.6 L485.4,152.4 L485.6,166.5 L485.7,154.7 L485.8,166.4 L486.0,154.7 L486.1,164.3 L486.3,153.0 L486.4,165.3 L486.6,152.4 L486.8,166.6 L486.9,153.5 L487.1,171.1 L487.2,152.2 L487.3,166.9 L487.5,152.0 L487.6,164.1 L487.8,148.6 L487.9,168.6 L488.1,153.3 L488.2,168.0 L488.4,155.2 L488.6,166.0 L488.7,155.6 L488.8,169.8 L489.0,155.6 L489.1,169.4 L489.3,157.5 L489.4,168.0 L489.6,156.2 L489.8,167.9 L489.9,155.5 L490.1,168.9 L490.2,155.8 L490.3,167.3 L490.5,156.8 L490.6,167.2 L490.8,158.4 L490.9,167.5 L491.1,158.1 L491.2,167.6 L491.4,158.6 L491.6,167.2 L491.7,155.2 L491.8,165.9 L492.0,152.2 L492.1,169.4 L492.3,156.9 L492.4,163.9 L492.6,155.5 L492.8,165.8 L492.9,155.6 L493.1,165.9 L493.2,158.5 L493.3,169.3 L493.5,159.2 L493.6,168.8 L493.8,159.1 L493.9,166.5 L494.1,159.6 L494.2,167.8 L494.4,156.3 L494.6,168.2 L494.7,157.4 L494.8,167.5 L495.0,158.0 L495.1,167.5 L495.3,157.9 L495.4,164.9 L495.6,159.1 L495.8,165.8 L495.9,159.1 L496.1,167.2 L496.2,160.1 L496.3,169.7 L496.5,159.2 L496.6,166.7 L496.8,158.7 L496.9,164.1 L497.1,159.7 L497.2,165.4 L497.4,158.2 L497.6,167.5 L497.7,155.4 L497.8,171.4 L498.0,154.1 L498.1,170.6 L498.3,154.1 L498.4,171.0 L498.6,157.7 L498.8,168.8 L498.9,159.5 L499.1,168.7 L499.2,159.1 L499.3,170.2 L499.5,156.3 L499.6,171.7 L499.8,157.4 L499.9,171.0 L500.1,157.7 L500.2,167.7 L500.4,160.0 L500.6,170.4 L500.7,161.8 L500.8,171.1 L501.0,161.7 L501.1,172.1 L501.3,158.3 L501.4,170.4 L501.6,158.6 L501.8,169.3 L501.9,160.8 L502.1,169.2 L502.2,162.0 L502.3,167.4 L502.5,160.3 L502.6,168.0 L502.8,158.9 L502.9,170.2 L503.1,161.6 L503.2,170.0 L503.4,160.5 L503.6,168.7 L503.7,159.8 L503.8,171.3 L504.0,160.3 L504.1,171.4 L504.3,159.9 L504.4,172.8 L504.6,161.6 L504.8,170.4 L504.9,160.4 L505.1,172.4 L505.2,159.4 L505.3,172.9 L505.5,155.3 L505.6,175.3 L505.8,155.2 L505.9,171.5 L506.1,155.2 L506.2,170.2 L506.4,155.2 L506.6,171.8 L506.7,155.9 L506.8,170.5 L507.0,154.9 L507.1,170.6 L507.3,153.8 L507.4,171.0 L507.6,156.5 L507.8,174.3 L507.9,156.3 L508.1,174.4 L508.2,157.3 L508.3,176.1 L508.5,154.4 L508.6,175.0 L508.8,156.1 L508.9,177.6 L509.1,161.6 L509.2,177.8 L509.4,158.4 L509.6,175.7 L509.7,161.6 L509.8,174.5 L510.0,160.7 L510.1,176.5 L510.3,162.6 L510.4,178.4 L510.6,159.6 L510.8,175.8 L510.9,157.1 L511.1,179.9 L511.2,156.3 L511.3,178.6 L511.5,158.6 L511.6,180.3 L511.8,162.8 L511.9,178.2 L512.1,162.7 L512.2,176.0 L512.4,163.1 L512.5,174.4 L512.7,164.5 L512.8,176.4 L513.0,160.8 L513.1,176.4 L513.3,160.4 L513.5,171.8 L513.6,160.5 L513.8,171.5 L513.9,161.8 L514.0,171.1 L514.2,159.6 L514.3,171.5 L514.5,159.8 L514.6,169.4 L514.8,160.9 L515.0,169.6 L515.1,157.5 L515.2,169.3 L515.4,160.2 L515.5,171.7 L515.7,159.5 L515.8,171.4 L516.0,157.5 L516.1,170.0 L516.3,156.1 L516.5,172.5 L516.6,155.9 L516.8,176.8 L516.9,157.3 L517.0,180.0 L517.2,158.6 L517.3,176.3 L517.5,161.0 L517.6,173.2 L517.8,165.3 L518.0,173.6 L518.1,167.6 L518.2,174.6 L518.4,166.2 L518.5,174.2 L518.7,166.3 L518.8,179.2 L519.0,168.3 L519.1,174.5 L519.3,165.7 L519.5,174.0 L519.6,165.1 L519.8,173.0 L519.9,166.1 L520.0,173.7 L520.2,164.6 L520.3,169.7 L520.5,162.1 L520.6,170.5 L520.8,162.8 L521.0,171.9 L521.1,159.8 L521.2,170.8 L521.4,158.6 L521.5,171.6 L521.7,160.3 L521.8,171.3 L522.0,160.0 L522.1,170.0 L522.3,161.9 L522.5,173.9 L522.6,162.2 L522.8,170.5 L522.9,163.6 L523.0,174.7 L523.2,162.8 L523.3,171.9 L523.5,165.9 L523.6,173.3 L523.8,163.7 L524.0,175.0 L524.1,164.5 L524.2,177.2 L524.4,166.2 L524.5,174.3 L524.7,166.1 L524.8,174.7 L525.0,166.8 L525.1,173.8 L525.3,164.4 L525.5,172.8 L525.6,164.4 L525.8,172.4 L525.9,160.4 L526.0,173.8 L526.2,157.7 L526.3,174.6 L526.5,157.7 L526.6,172.7 L526.8,159.0 L527.0,173.6 L527.1,162.3 L527.2,170.6 L527.4,163.5 L527.5,170.5 L527.7,160.9 L527.8,175.7 L528.0,161.5 L528.1,173.2 L528.3,158.7 L528.5,174.6 L528.6,159.8 L528.8,176.0 L528.9,161.7 L529.0,173.2 L529.2,161.7 L529.3,175.7 L529.5,162.9 L529.6,176.1 L529.8,165.9 L530.0,174.6 L530.1,161.5 L530.2,172.6 L530.4,162.7 L530.5,172.4 L530.7,162.5 L530.8,173.9 L531.0,159.8 L531.1,174.2 L531.3,159.3 L531.5,171.6 L531.6,159.2 L531.8,175.0 L531.9,157.9 L532.0,171.0 L532.2,161.7 L532.3,172.3 L532.5,158.9 L532.6,174.1 L532.8,159.0 L533.0,177.2 L533.1,157.1 L533.2,172.4 L533.4,158.7 L533.5,173.7 L533.7,162.6 L533.8,173.3 L534.0,161.6 L534.1,171.4 L534.3,166.3 L534.5,174.4 L534.6,166.0 L534.8,172.0 L534.9,167.0 L535.0,172.6 L535.2,167.2 L535.3,170.3 L535.5,164.7 L535.6,171.0 L535.8,165.0 L536.0,168.7 L536.1,163.5 L536.2,171.0 L536.4,161.0 L536.5,170.3 L536.7,162.0 L536.8,170.8 L537.0,163.8 L537.1,169.4 L537.3,163.7 L537.5,169.1 L537.6,161.9 L537.8,169.2 L537.9,162.1 L538.0,170.6 L538.2,162.6 L538.3,169.2 L538.5,161.7 L538.6,168.4 L538.8,160.2 L539.0,170.6 L539.1,160.8 L539.2,168.5 L539.4,162.5 L539.5,173.1 L539.7,162.1 L539.8,169.9 L540.0,162.5 L540.1,170.0 L540.3,162.7 L540.5,169.5 L540.6,162.7 L540.8,170.5 L540.9,162.3 L541.0,169.1 L541.2,162.3 L541.3,169.8 L541.5,160.9 L541.6,171.2 L541.8,159.3 L542.0,174.3 L542.1,158.8 L542.2,168.4 L542.4,161.0 L542.5,170.2 L542.7,162.2 L542.8,169.6 L543.0,163.0 L543.1,168.2 L543.3,160.9 L543.5,170.3 L543.6,161.5 L543.8,171.5 L543.9,159.2 L544.0,171.7 L544.2,157.9 L544.3,171.7 L544.5,157.7 L544.6,169.6 L544.8,158.8 L545.0,165.9 L545.1,157.5 L545.2,168.0 L545.4,158.2 L545.5,168.7 L545.7,152.3 L545.8,165.7 L546.0,154.0 L546.1,165.6 L546.3,155.6 L546.5,165.9 L546.6,155.3 L546.8,165.6 L546.9,155.1 L547.0,162.9 L547.2,155.8 L547.3,162.0 L547.5,158.6 L547.6,167.0 L547.8,157.0 L548.0,167.7 L548.1,157.3 L548.2,166.8 L548.4,160.2 L548.5,167.7 L548.7,158.7 L548.8,165.6 L549.0,158.1 L549.1,165.7 L549.3,156.9 L549.5,166.6 L549.6,159.0 L549.8,166.4 L549.9,155.6 L550.0,166.2 L550.2,157.4 L550.3,165.3 L550.5,156.6 L550.6,163.2 L550.8,155.5 L551.0,163.2 L551.1,153.2 L551.2,162.6 L551.4,152.6 L551.5,161.2 L551.7,152.3 L551.8,159.3 L552.0,150.1 L552.1,158.6 L552.3,150.2 L552.5,159.4 L552.6,150.0 L552.8,157.3 L552.9,149.7 L553.0,160.1 L553.2,148.9 L553.3,164.7 L553.5,147.6 L553.6,164.3 L553.8,147.1 L554.0,161.6 L554.1,146.7 L554.2,161.7 L554.4,142.6 L554.5,165.8 L554.7,148.7 L554.8,162.3" stroke="#7f00ff"/>
</g>
<path d="M56.3,43.5 H555.35 M554.6,43.5 V418.55 M198.0,43.5 V257.2 M197.25,257.2 H554.6 M56.30,43.5 v7.8 M69.62,43.5 v4.2 M83.89,43.5 v7.8 M98.15,43.5 v4.2 M112.42,43.5 v7.8 M126.68,43.5 v4.2 M140.94,43.5 v7.8 M155.21,43.5 v4.2 M169.47,43.5 v7.8 M183.74,43.5 v4.2 M198.00,43.5 v7.8 M212.26,43.5 v4.2 M226.53,43.5 v7.8 M240.79,43.5 v4.2 M255.06,43.5 v7.8 M269.32,43.5 v4.2 M283.58,43.5 v7.8 M297.85,43.5 v4.2 M312.11,43.5 v7.8 M326.38,43.5 v4.2 M340.64,43.5 v7.8 M354.90,43.5 v4.2 M369.17,43.5 v7.8 M383.43,43.5 v4.2 M397.70,43.5 v7.8 M411.96,43.5 v4.2 M426.22,43.5 v7.8 M440.49,43.5 v4.2 M454.75,43.5 v7.8 M469.02,43.5 v4.2 M483.28,43.5 v7.8 M497.54,43.5 v4.2 M511.81,43.5 v7.8 M526.07,43.5 v4.2 M540.34,43.5 v7.8 M554.6,70.21 h-4.2 M554.6,96.92 h-7.8 M554.6,123.64 h-4.2 M554.6,150.35 h-7.8 M554.6,177.06 h-4.2 M554.6,203.77 h-7.8 M554.6,230.49 h-4.2 M554.6,257.20 h-7.8 M554.6,283.91 h-4.2 M554.6,310.62 h-7.8 M554.6,337.34 h-4.2 M554.6,364.05 h-7.8 M554.6,390.76 h-4.2 M554.6,417.80 h-7.8" stroke="#808080" stroke-width="1.6" fill="none"/>
<path d="M56.3,51.0 V417.8 M55.449999999999996,417.8 H547.1 M56.3,399.09 h4.2 M56.3,380.37 h7.8 M56.3,361.66 h4.2 M56.3,342.94 h7.8 M56.3,324.23 h4.2 M56.3,305.51 h7.8 M56.3,286.80 h4.2 M56.3,268.08 h7.8 M56.3,249.37 h4.2 M56.3,230.65 h7.8 M56.3,211.94 h4.2 M56.3,193.22 h7.8 M56.3,174.51 h4.2 M56.3,155.79 h7.8 M56.3,137.07 h4.2 M56.3,118.36 h7.8 M56.3,99.65 h4.2 M56.3,80.93 h7.8 M56.3,62.22 h4.2 M72.91,417.8 v-4.2 M89.52,417.8 v-7.8 M106.13,417.8 v-4.2 M122.74,417.8 v-7.8 M139.35,417.8 v-4.2 M155.96,417.8 v-7.8 M172.57,417.8 v-4.2 M189.18,417.8 v-7.8 M205.79,417.8 v-4.2 M222.40,417.8 v-7.8 M239.01,417.8 v-4.2 M255.62,417.8 v-7.8 M272.23,417.8 v-4.2 M288.84,417.8 v-7.8 M305.45,417.8 v-4.2 M322.06,417.8 v-7.8 M338.67,417.8 v-4.2 M355.28,417.8 v-7.8 M371.89,417.8 v-4.2 M388.50,417.8 v-7.8 M405.11,417.8 v-4.2 M421.72,417.8 v-7.8 M438.33,417.8 v-4.2 M454.94,417.8 v-7.8 M471.55,417.8 v-4.2 M488.16,417.8 v-7.8 M504.77,417.8 v-4.2 M521.38,417.8 v-7.8 M537.99,417.8 v-4.2" stroke="#000" stroke-width="1.6" fill="none"/>
<text x="47.8" y="421.7" font-size="14.5" text-anchor="end" fill="#000" >0</text>
<text x="47.8" y="384.3" font-size="14.5" text-anchor="end" fill="#000" >10</text>
<text x="47.8" y="346.8" font-size="14.5" text-anchor="end" fill="#000" >20</text>
<text x="47.8" y="309.4" font-size="14.5" text-anchor="end" fill="#000" >30</text>
<text x="47.8" y="272.0" font-size="14.5" text-anchor="end" fill="#000" >40</text>
<text x="47.8" y="234.6" font-size="14.5" text-anchor="end" fill="#000" >50</text>
<text x="47.8" y="197.1" font-size="14.5" text-anchor="end" fill="#000" >60</text>
<text x="47.8" y="159.7" font-size="14.5" text-anchor="end" fill="#000" >70</text>
<text x="47.8" y="122.3" font-size="14.5" text-anchor="end" fill="#000" >80</text>
<text x="47.8" y="84.8" font-size="14.5" text-anchor="end" fill="#000" >90</text>
<text x="47.8" y="47.4" font-size="14.5" text-anchor="end" fill="#000" >100</text>
<text x="56.0" y="437.4" font-size="14.5" text-anchor="middle" fill="#000" >0</text>
<text x="89.2" y="437.4" font-size="14.5" text-anchor="middle" fill="#000" >2</text>
<text x="122.4" y="437.4" font-size="14.5" text-anchor="middle" fill="#000" >4</text>
<text x="155.7" y="437.4" font-size="14.5" text-anchor="middle" fill="#000" >6</text>
<text x="188.9" y="437.4" font-size="14.5" text-anchor="middle" fill="#000" >8</text>
<text x="222.1" y="437.4" font-size="14.5" text-anchor="middle" fill="#000" >10</text>
<text x="255.3" y="437.4" font-size="14.5" text-anchor="middle" fill="#000" >12</text>
<text x="288.5" y="437.4" font-size="14.5" text-anchor="middle" fill="#000" >14</text>
<text x="321.8" y="437.4" font-size="14.5" text-anchor="middle" fill="#000" >16</text>
<text x="355.0" y="437.4" font-size="14.5" text-anchor="middle" fill="#000" >18</text>
<text x="388.2" y="437.4" font-size="14.5" text-anchor="middle" fill="#000" >20</text>
<text x="421.4" y="437.4" font-size="14.5" text-anchor="middle" fill="#000" >22</text>
<text x="454.6" y="437.4" font-size="14.5" text-anchor="middle" fill="#000" >24</text>
<text x="487.9" y="437.4" font-size="14.5" text-anchor="middle" fill="#000" >26</text>
<text x="521.1" y="437.4" font-size="14.5" text-anchor="middle" fill="#000" >28</text>
<text x="554.3" y="437.4" font-size="14.5" text-anchor="middle" fill="#000" >30</text>
<text x="198.2" y="30.9" font-size="14.2" text-anchor="middle" fill="#808080" >0.0</text>
<text x="226.7" y="30.9" font-size="14.2" text-anchor="middle" fill="#808080" >0.4</text>
<text x="255.3" y="30.9" font-size="14.2" text-anchor="middle" fill="#808080" >0.8</text>
<text x="283.8" y="30.9" font-size="14.2" text-anchor="middle" fill="#808080" >1.2</text>
<text x="312.3" y="30.9" font-size="14.2" text-anchor="middle" fill="#808080" >1.6</text>
<text x="340.8" y="30.9" font-size="14.2" text-anchor="middle" fill="#808080" >2.0</text>
<text x="369.4" y="30.9" font-size="14.2" text-anchor="middle" fill="#808080" >2.4</text>
<text x="397.9" y="30.9" font-size="14.2" text-anchor="middle" fill="#808080" >2.8</text>
<text x="426.4" y="30.9" font-size="14.2" text-anchor="middle" fill="#808080" >3.2</text>
<text x="455.0" y="30.9" font-size="14.2" text-anchor="middle" fill="#808080" >3.6</text>
<text x="483.5" y="30.9" font-size="14.2" text-anchor="middle" fill="#808080" >4.0</text>
<text x="512.0" y="30.9" font-size="14.2" text-anchor="middle" fill="#808080" >4.4</text>
<text x="540.5" y="30.9" font-size="14.2" text-anchor="middle" fill="#808080" >4.8</text>
<text x="562.6" y="47.4" font-size="14.3" text-anchor="start" fill="#808080" >517.0</text>
<text x="562.6" y="100.8" font-size="14.3" text-anchor="start" fill="#808080" >516.5</text>
<text x="562.6" y="154.2" font-size="14.3" text-anchor="start" fill="#808080" >516.0</text>
<text x="562.6" y="207.7" font-size="14.3" text-anchor="start" fill="#808080" >515.5</text>
<text x="562.6" y="261.1" font-size="14.3" text-anchor="start" fill="#808080" >515.0</text>
<text x="3.0" y="18.0" font-size="18.3" text-anchor="start" fill="#000" >(a)</text>
<text x="385.5" y="12.5" font-size="18.3" text-anchor="middle" fill="#808080"><tspan font-style="italic">t</tspan> (µs)</text>
<text transform="translate(17.3,242.6) rotate(-90)" font-size="18.5" text-anchor="middle" fill="#000">FFT amplitude (µV)</text>
<text transform="translate(621.4,148.5) rotate(-90)" font-size="18.6" text-anchor="middle" fill="#808080"><tspan font-style="italic">V</tspan> (mV)</text>
<text x="305.3" y="458.5" font-size="18.4" text-anchor="middle" fill="#000"><tspan font-style="italic">f</tspan> (MHz)</text>
<rect x="273.6" y="272.8" width="268.8" height="46.4" fill="#fff" stroke="#333" stroke-width="0.9"/>
<line x1="290.8" y1="286.8" x2="331.8" y2="286.8" stroke="#7f00ff" stroke-width="1.9"/>
<line x1="290.8" y1="309" x2="331.8" y2="309" stroke="#000" stroke-width="1.9"/>
<text x="336.5" y="293.0" font-size="18.25" text-anchor="start" fill="#000" >2 keV Argon</text>
<text x="336.5" y="314.6" font-size="18.25" text-anchor="start" fill="#000" >background w/ switching</text>
<path d="M56.1,690.6 L60.8,671.8 L65.6,664.1 L70.3,658.1 L75.1,653.1 L79.8,648.7 L84.6,644.7 L89.3,641.0 L94.1,637.6 L98.8,634.3 L103.6,631.3 L108.3,628.4 L113.1,625.6 L117.8,623.0 L122.6,620.4 L127.3,618.0 L132.1,615.6 L136.8,613.3 L141.6,611.0 L146.3,608.9 L151.1,606.7 L155.8,604.7 L160.5,602.6 L165.3,600.7 L170.0,598.7 L174.8,596.8 L179.5,595.0 L184.3,593.2 L189.0,591.4 L193.8,589.6 L198.5,587.9 L203.3,586.2 L208.0,584.5 L212.8,582.9 L217.5,581.3 L222.3,579.7 L227.0,578.1 L231.8,576.5 L236.5,575.0 L241.3,573.5 L246.0,572.0 L250.7,570.5 L255.5,569.1 L260.2,567.6 L265.0,566.2 L269.7,564.8 L274.5,563.4 L279.2,562.0 L284.0,560.7 L288.7,559.3 L293.5,558.0 L298.2,556.7 L303.0,555.4 L307.7,554.1 L312.5,552.8 L317.2,551.5 L322.0,550.3 L326.7,549.0 L331.5,547.8 L336.2,546.6 L341.0,545.3 L345.7,544.1 L350.4,542.9 L355.2,541.8 L359.9,540.6 L364.7,539.4 L369.4,538.3 L374.2,537.1 L378.9,536.0 L383.7,534.8 L388.4,533.7 L393.2,532.6 L397.9,531.5 L402.7,530.4 L407.4,529.3 L412.2,528.2 L416.9,527.1 L421.7,526.0 L426.4,525.0 L431.2,523.9 L435.9,522.9 L440.6,521.8 L445.4,520.8 L450.1,519.8 L454.9,518.7 L459.6,517.7 L464.4,516.7 L469.1,515.7 L473.9,514.7 L478.6,513.7 L483.4,512.7 L488.1,511.7 L492.9,510.7 L497.6,509.8 L502.4,508.8 L507.1,507.8 L511.9,506.9 L516.6,505.9 L521.4,505.0 L526.1,504.0 L530.9,503.1" fill="none" stroke="#7f00ff" stroke-width="2" stroke-linejoin="round"/>
<path d="M246.0,571.0 V582.8 M242.2,571.0 h7.6 M242.2,582.8 h7.6" stroke="#333" stroke-width="0.9" fill="none"/>
<circle cx="246.0" cy="576.9" r="4.75" fill="#000"/>
<path d="M341.0,545.9 V557.7 M337.2,545.9 h7.6 M337.2,557.7 h7.6" stroke="#333" stroke-width="0.9" fill="none"/>
<circle cx="341.0" cy="551.8" r="4.75" fill="#000"/>
<path d="M435.9,528.4 V540.2 M432.1,528.4 h7.6 M432.1,540.2 h7.6" stroke="#333" stroke-width="0.9" fill="none"/>
<circle cx="435.9" cy="534.3" r="4.75" fill="#000"/>
<path d="M530.9,503.7 V515.5 M527.1,503.7 h7.6 M527.1,515.5 h7.6" stroke="#333" stroke-width="0.9" fill="none"/>
<circle cx="530.9" cy="509.6" r="4.75" fill="#000"/>
<path d="M56.1,485.6 H554.7 V690.6 H56.1 Z M79.84,690.6 v-4.2 M79.84,485.6 v4.2 M103.58,690.6 v-7.8 M103.58,485.6 v7.8 M127.31,690.6 v-4.2 M127.31,485.6 v4.2 M151.05,690.6 v-7.8 M151.05,485.6 v7.8 M174.79,690.6 v-4.2 M174.79,485.6 v4.2 M198.53,690.6 v-7.8 M198.53,485.6 v7.8 M222.26,690.6 v-4.2 M222.26,485.6 v4.2 M246.00,690.6 v-7.8 M246.00,485.6 v7.8 M269.74,690.6 v-4.2 M269.74,485.6 v4.2 M293.48,690.6 v-7.8 M293.48,485.6 v7.8 M317.21,690.6 v-4.2 M317.21,485.6 v4.2 M340.95,690.6 v-7.8 M340.95,485.6 v7.8 M364.69,690.6 v-4.2 M364.69,485.6 v4.2 M388.43,690.6 v-7.8 M388.43,485.6 v7.8 M412.16,690.6 v-4.2 M412.16,485.6 v4.2 M435.90,690.6 v-7.8 M435.90,485.6 v7.8 M459.64,690.6 v-4.2 M459.64,485.6 v4.2 M483.38,690.6 v-7.8 M483.38,485.6 v7.8 M507.11,690.6 v-4.2 M507.11,485.6 v4.2 M530.85,690.6 v-7.8 M530.85,485.6 v7.8 M56.1,660.43 h4.2 M554.7,660.43 h-4.2 M56.1,630.26 h7.8 M554.7,630.26 h-7.8 M56.1,600.10 h4.2 M554.7,600.10 h-4.2 M56.1,569.93 h7.8 M554.7,569.93 h-7.8 M56.1,539.76 h4.2 M554.7,539.76 h-4.2 M56.1,509.60 h7.8 M554.7,509.60 h-7.8" stroke="#000" stroke-width="1.6" fill="none"/>
<text x="48.2" y="695.0" font-size="14.5" text-anchor="end" fill="#000" >0.0</text>
<text x="48.2" y="634.7" font-size="14.5" text-anchor="end" fill="#000" >0.5</text>
<text x="48.2" y="574.3" font-size="14.5" text-anchor="end" fill="#000" >1.0</text>
<text x="48.2" y="514.0" font-size="14.5" text-anchor="end" fill="#000" >1.5</text>
<text x="56.0" y="711.4" font-size="14.5" text-anchor="middle" fill="#000" >0.0</text>
<text x="103.5" y="711.4" font-size="14.5" text-anchor="middle" fill="#000" >0.5</text>
<text x="151.0" y="711.4" font-size="14.5" text-anchor="middle" fill="#000" >1.0</text>
<text x="198.4" y="711.4" font-size="14.5" text-anchor="middle" fill="#000" >1.5</text>
<text x="245.9" y="711.4" font-size="14.5" text-anchor="middle" fill="#000" >2.0</text>
<text x="293.4" y="711.4" font-size="14.5" text-anchor="middle" fill="#000" >2.5</text>
<text x="340.9" y="711.4" font-size="14.5" text-anchor="middle" fill="#000" >3.0</text>
<text x="388.3" y="711.4" font-size="14.5" text-anchor="middle" fill="#000" >3.5</text>
<text x="435.8" y="711.4" font-size="14.5" text-anchor="middle" fill="#000" >4.0</text>
<text x="483.3" y="711.4" font-size="14.5" text-anchor="middle" fill="#000" >4.5</text>
<text x="530.8" y="711.4" font-size="14.5" text-anchor="middle" fill="#000" >5.0</text>
<text x="3.0" y="492.0" font-size="18" text-anchor="start" fill="#000" >(b)</text>
<text x="268.6" y="728.2" font-size="18.7" text-anchor="start" fill="#000"><tspan font-style="italic">E</tspan><tspan font-size="10.5" dy="7" dx="-0.6">kin</tspan><tspan dy="-7" dx="-1"> (keV)</tspan></text>
<text transform="translate(17.0,644.0) rotate(-90)" font-size="18.7" text-anchor="start" fill="#000"><tspan font-style="italic">v</tspan><tspan font-size="10.5" dy="7">Ar</tspan><tspan dy="-7" dx="2.6"> (10</tspan><tspan font-size="10.5" dy="-8">5</tspan><tspan dy="8"> m/s)</tspan></text>
<rect x="367" y="624.3" width="172.9" height="47.7" fill="#fff" stroke="#000" stroke-width="0.8"/>
<circle cx="403" cy="638.7" r="4.6" fill="#000"/>
<line x1="382" y1="660.8" x2="424.5" y2="660.8" stroke="#7f00ff" stroke-width="2"/>
<text x="429.0" y="644.3" font-size="18.2" text-anchor="start" fill="#000" >experimental</text>
<text x="429.0" y="667.3" font-size="18.2" text-anchor="start" fill="#000" >theoretical</text>
</svg>
</body></html>
